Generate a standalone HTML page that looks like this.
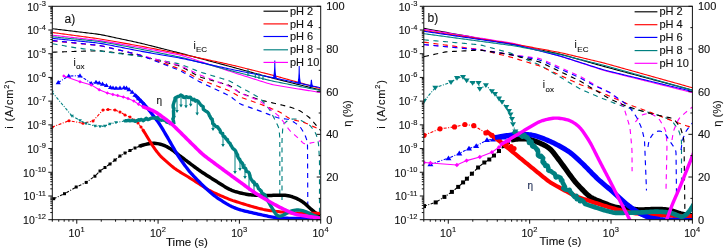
<!DOCTYPE html><html><head><meta charset="utf-8"><style>
html,body{margin:0;padding:0;background:#fff;}
svg{display:block;filter:blur(0.3px);}
</style></head><body><svg width="725" height="249" viewBox="0 0 725 249">
<style>text{stroke:#111;stroke-width:0.12px;}</style>
<rect width="725" height="249" fill="#fff"/>
<defs><clipPath id="ca"><rect x="52.3" y="6.3" width="268.4" height="213.4"/></clipPath><clipPath id="cb"><rect x="423.8" y="6.3" width="268.6" height="213.4"/></clipPath></defs>
<g clip-path="url(#ca)">
<path d="M52.5,52.2 L54.26,52.14 L55.56,52.09 L57.01,52.04 L58.5,51.99 L60,51.93 L61.5,51.88 L63,51.83 L64.5,51.77 L66,51.72 L67.5,51.67 L69,51.61 L70.5,51.56 L72,51.51 L73.5,51.46 L75,51.41 L76.5,51.37 L78,51.33 L79.5,51.29 L81,51.26 L82.5,51.22 L84,51.18 L85.5,51.15 L87,51.11 L88.5,51.08 L90,51.04 L91.5,51 L93,50.97 L94.5,50.93 L96,50.9 L97.5,50.87 L99,50.88 L100.49,50.94 L101.98,51.07 L103.48,51.23 L104.96,51.41 L106.45,51.59 L107.94,51.77 L109.43,51.96 L110.92,52.14 L112.41,52.32 L113.9,52.5 L115.39,52.69 L116.88,52.87 L118.37,53.05 L119.86,53.23 L121.35,53.42 L122.84,53.6 L124.33,53.78 L125.82,53.96 L127.31,54.15 L128.8,54.33 L130.29,54.51 L131.78,54.69 L133.27,54.88 L134.76,55.06 L136.24,55.24 L137.73,55.44 L139.21,55.66 L140.68,55.94 L142.15,56.27 L143.6,56.63 L145.06,57 L146.51,57.38 L147.96,57.75 L149.42,58.12 L150.87,58.5 L152.32,58.87 L153.78,59.25 L155.23,59.62 L156.68,60 L158.14,60.37 L159.59,60.74 L161.04,61.12 L162.5,61.49 L163.95,61.87 L165.4,62.24 L166.86,62.62 L168.31,62.99 L169.76,63.36 L171.22,63.74 L172.67,64.11 L174.12,64.49 L175.57,64.86 L177.02,65.25 L178.46,65.67 L179.86,66.16 L181.23,66.76 L182.56,67.43 L183.88,68.14 L185.2,68.86 L186.52,69.58 L187.83,70.31 L189.15,71.03 L190.46,71.75 L191.78,72.48 L193.09,73.2 L194.4,73.92 L195.72,74.64 L197.04,75.36 L198.37,76.05 L199.72,76.69 L201.11,77.23 L202.53,77.7 L203.96,78.12 L205.41,78.53 L206.85,78.94 L208.29,79.35 L209.74,79.76 L211.18,80.17 L212.63,80.58 L214.07,80.99 L215.51,81.4 L216.96,81.8 L218.4,82.21 L219.85,82.62 L221.29,83.03 L222.73,83.44 L224.18,83.85 L225.62,84.26 L227.06,84.69 L228.47,85.16 L229.83,85.74 L231.12,86.46 L232.35,87.29 L233.56,88.17 L234.76,89.07 L235.96,89.97 L237.17,90.86 L238.39,91.73 L239.64,92.52 L240.96,93.21 L242.33,93.78 L243.74,94.3 L245.15,94.8 L246.57,95.3 L247.98,95.79 L249.4,96.29 L250.82,96.79 L252.23,97.28 L253.65,97.78 L255.07,98.27 L256.48,98.77 L257.9,99.25 L259.33,99.71 L260.77,100.12 L262.22,100.5 L263.68,100.84 L265.14,101.18 L266.61,101.52 L268.07,101.86 L269.53,102.19 L270.99,102.53 L272.46,102.86 L273.92,103.2 L275.38,103.54 L276.84,103.87 L278.31,104.21 L279.77,104.55 L281.23,104.9 L282.69,105.25 L284.15,105.6 L285.61,105.95 L287.06,106.3 L288.52,106.68 L289.96,107.09 L291.38,107.54 L292.8,108.04 L294.21,108.56 L295.61,109.08 L297.02,109.61 L298.4,110.17 L299.75,110.81 L301.04,111.55 L302.29,112.37 L303.51,113.23 L304.73,114.11 L305.95,114.98 L307.16,115.87 L308.36,116.77 L309.5,117.72 L310.58,118.75 L311.59,119.85 L312.56,120.98 L313.53,122.13 L314.49,123.29 L315.45,124.44 L316.41,125.59 L317.38,126.74 L318.36,127.87 L319.33,128.99 L320.27,130.06 L321.08,130.96 L322,132" stroke="#000000" stroke-width="1.15" stroke-dasharray="5 4.5" fill="none"/>
<path d="M52.5,43.7 L54.23,44.01 L55.51,44.24 L56.94,44.49 L58.41,44.75 L59.89,45.01 L61.37,45.28 L62.85,45.54 L64.32,45.8 L65.8,46.06 L67.28,46.33 L68.76,46.59 L70.24,46.85 L71.72,47.11 L73.2,47.37 L74.68,47.61 L76.16,47.84 L77.65,48.05 L79.13,48.25 L80.62,48.44 L82.11,48.64 L83.6,48.84 L85.09,49.03 L86.58,49.23 L88.07,49.42 L89.55,49.62 L91.04,49.82 L92.53,50.01 L94.02,50.21 L95.51,50.41 L97,50.6 L98.48,50.8 L99.97,51 L101.46,51.19 L102.95,51.39 L104.44,51.59 L105.93,51.79 L107.41,51.98 L108.9,52.18 L110.39,52.38 L111.88,52.57 L113.37,52.77 L114.86,52.97 L116.34,53.17 L117.83,53.36 L119.32,53.56 L120.81,53.76 L122.3,53.95 L123.78,54.15 L125.27,54.35 L126.76,54.55 L128.25,54.74 L129.74,54.94 L131.23,55.14 L132.71,55.33 L134.2,55.53 L135.69,55.73 L137.18,55.93 L138.66,56.14 L140.15,56.37 L141.63,56.63 L143.1,56.9 L144.58,57.18 L146.05,57.46 L147.53,57.75 L149,58.03 L150.47,58.32 L151.95,58.6 L153.42,58.88 L154.9,59.17 L156.37,59.45 L157.85,59.74 L159.32,60.02 L160.79,60.3 L162.27,60.59 L163.74,60.87 L165.22,61.15 L166.69,61.44 L168.16,61.72 L169.64,62.01 L171.11,62.29 L172.59,62.57 L174.06,62.86 L175.54,63.14 L177.01,63.43 L178.47,63.75 L179.92,64.13 L181.34,64.59 L182.75,65.11 L184.14,65.66 L185.54,66.21 L186.93,66.77 L188.32,67.33 L189.72,67.89 L191.11,68.44 L192.51,69 L193.9,69.56 L195.29,70.12 L196.69,70.67 L198.09,71.22 L199.49,71.74 L200.91,72.23 L202.34,72.69 L203.77,73.13 L205.21,73.56 L206.65,73.99 L208.09,74.43 L209.53,74.86 L210.96,75.29 L212.4,75.72 L213.84,76.15 L215.28,76.58 L216.72,77.01 L218.15,77.45 L219.59,77.88 L221.03,78.31 L222.47,78.74 L223.91,79.17 L225.34,79.6 L226.78,80.04 L228.2,80.51 L229.59,81.04 L230.94,81.67 L232.26,82.38 L233.55,83.14 L234.84,83.91 L236.13,84.68 L237.42,85.45 L238.71,86.21 L240.01,86.97 L241.31,87.71 L242.62,88.44 L243.94,89.17 L245.25,89.89 L246.57,90.61 L247.88,91.34 L249.2,92.06 L250.52,92.78 L251.83,93.51 L253.15,94.23 L254.46,94.95 L255.78,95.68 L257.08,96.41 L258.36,97.18 L259.57,98.03 L260.68,99.01 L261.7,100.09 L262.68,101.22 L263.64,102.37 L264.6,103.52 L265.56,104.68 L266.53,105.83 L267.48,106.99 L268.43,108.15 L269.33,109.34 L270.15,110.59 L270.9,111.88 L271.6,113.21 L272.27,114.55 L272.94,115.89 L273.62,117.23 L274.29,118.57 L274.96,119.92 L275.63,121.26 L276.3,122.6 L276.97,123.95 L277.62,125.29 L278.22,126.66 L278.7,128.05 L279.02,129.49 L279.22,130.97 L279.35,132.46 L279.48,133.96 L279.59,135.45 L279.69,136.95 L279.75,138.45 L279.79,139.95 L279.8,141.45 L279.8,142.95 L279.8,144.45 L279.8,145.95 L279.8,147.46 L279.8,148.96 L279.8,150.46 L279.8,151.96 L279.8,153.46 L279.8,154.96 L279.8,156.46 L279.8,157.96 L279.8,159.47 L279.8,160.97 L279.8,162.47 L279.8,163.97 L279.8,165.47 L279.8,166.97 L279.8,168.47 L279.8,169.97 L279.8,171.48 L279.8,172.98 L279.8,174.48 L279.8,175.98 L279.8,177.48 L279.8,178.98 L279.8,180.48 L279.8,181.99 L279.8,183.49 L279.8,184.99 L279.8,186.49 L279.8,187.99 L279.8,189.49 L279.8,190.99 L279.8,192.49 L279.8,193.99 L279.8,195.47 L279.8,196.83 L279.8,197.93 L279.8,199" stroke="#008080" stroke-width="1.15" stroke-dasharray="5 4.5" fill="none"/>
<path d="M282,200 L282,198.24 L282,196.94 L282,195.48 L282,193.99 L282,192.49 L282,190.99 L282,189.48 L282,187.98 L282,186.48 L282,184.98 L282,183.47 L282,181.97 L282,180.47 L282,178.97 L282,177.47 L282,175.96 L282,174.46 L282,172.96 L282,171.46 L282,169.95 L282,168.45 L282,166.95 L282,165.45 L282,163.94 L282,162.44 L282,160.94 L282,159.44 L282,157.94 L282,156.43 L282,154.93 L282,153.43 L282,151.93 L282,150.42 L282,148.92 L282,147.42 L282,145.92 L282,144.41 L282,142.91 L282.02,141.41 L282.05,139.91 L282.11,138.41 L282.2,136.91 L282.29,135.41 L282.38,133.91 L282.47,132.41 L282.57,130.91 L282.66,129.41 L282.77,127.92 L282.93,126.46 L283.26,125.09 L283.88,123.88 L284.82,122.85 L285.94,121.93 L287.15,121.06 L288.4,120.26 L289.7,119.62 L291.07,119.23 L292.52,119.06 L294,119.02 L295.5,119.05 L296.97,119.18 L298.4,119.48 L299.78,119.97 L301.14,120.59 L302.49,121.25 L303.83,121.92 L305.17,122.59 L306.51,123.27 L307.83,123.97 L309.07,124.76 L310.19,125.7 L311.17,126.78 L312.08,127.97 L312.95,129.19 L313.81,130.41 L314.64,131.66 L315.4,132.94 L316.03,134.28 L316.52,135.68 L316.94,137.11 L317.33,138.56 L317.7,140.02 L318.05,141.47 L318.33,142.94 L318.53,144.43 L318.66,145.92 L318.76,147.42 L318.85,148.92 L318.94,150.42 L319.02,151.92 L319.11,153.41 L319.2,154.91 L319.29,156.41 L319.37,157.91 L319.43,159.41 L319.48,160.92 L319.49,162.42 L319.5,163.92 L319.5,165.42 L319.5,166.92 L319.5,168.43 L319.5,169.93 L319.5,171.43 L319.5,172.93 L319.5,174.44 L319.5,175.94 L319.5,177.44 L319.5,178.94 L319.5,180.45 L319.5,181.95 L319.5,183.45 L319.5,184.95 L319.5,186.45 L319.5,187.96 L319.5,189.46 L319.5,190.96 L319.5,192.46 L319.5,193.97 L319.5,195.47 L319.5,196.97 L319.5,198.47 L319.5,199.98 L319.5,201.48 L319.5,202.98 L319.5,204.48 L319.5,205.98 L319.5,207.49 L319.5,208.99 L319.5,210.49 L319.5,211.98 L319.5,213.4 L319.5,214.61 L319.5,216" stroke="#008080" stroke-width="1.15" stroke-dasharray="5 4.5" fill="none"/>
<path d="M52.5,41 L54.25,41.17 L55.55,41.29 L57,41.43 L58.48,41.57 L59.98,41.71 L61.48,41.85 L62.97,41.99 L64.47,42.13 L65.96,42.28 L67.46,42.42 L68.95,42.56 L70.45,42.7 L71.95,42.84 L73.44,42.98 L74.94,43.13 L76.43,43.27 L77.93,43.41 L79.43,43.55 L80.92,43.69 L82.42,43.83 L83.91,43.98 L85.41,44.12 L86.91,44.26 L88.4,44.4 L89.9,44.54 L91.39,44.68 L92.89,44.83 L94.38,44.97 L95.88,45.11 L97.37,45.26 L98.86,45.44 L100.35,45.67 L101.82,45.96 L103.28,46.29 L104.75,46.63 L106.21,46.97 L107.67,47.32 L109.13,47.67 L110.59,48.02 L112.06,48.36 L113.52,48.71 L114.98,49.06 L116.44,49.4 L117.9,49.75 L119.37,50.1 L120.83,50.45 L122.29,50.79 L123.75,51.14 L125.21,51.49 L126.67,51.84 L128.14,52.18 L129.6,52.53 L131.06,52.88 L132.52,53.22 L133.98,53.57 L135.45,53.92 L136.91,54.27 L138.36,54.64 L139.81,55.03 L141.25,55.47 L142.67,55.94 L144.09,56.43 L145.51,56.93 L146.93,57.42 L148.35,57.92 L149.76,58.42 L151.18,58.91 L152.6,59.41 L154.02,59.91 L155.44,60.4 L156.86,60.9 L158.27,61.4 L159.69,61.89 L161.11,62.39 L162.53,62.89 L163.95,63.38 L165.37,63.88 L166.78,64.37 L168.2,64.87 L169.62,65.37 L171.04,65.86 L172.46,66.36 L173.87,66.86 L175.29,67.35 L176.71,67.85 L178.12,68.37 L179.51,68.92 L180.88,69.53 L182.23,70.19 L183.57,70.87 L184.9,71.57 L186.23,72.27 L187.56,72.97 L188.89,73.67 L190.22,74.36 L191.55,75.06 L192.88,75.76 L194.21,76.46 L195.54,77.16 L196.87,77.85 L198.21,78.54 L199.56,79.19 L200.93,79.81 L202.32,80.38 L203.72,80.92 L205.12,81.46 L206.52,82 L207.92,82.54 L209.33,83.08 L210.73,83.61 L212.13,84.15 L213.54,84.69 L214.94,85.23 L216.34,85.76 L217.75,86.3 L219.15,86.84 L220.55,87.38 L221.95,87.92 L223.36,88.45 L224.76,88.99 L226.16,89.53 L227.56,90.08 L228.94,90.66 L230.3,91.3 L231.62,92.01 L232.92,92.76 L234.21,93.53 L235.5,94.3 L236.79,95.07 L238.08,95.82 L239.4,96.53 L240.76,97.16 L242.15,97.72 L243.55,98.24 L244.97,98.74 L246.39,99.24 L247.81,99.73 L249.23,100.23 L250.64,100.73 L252.06,101.22 L253.48,101.72 L254.9,102.21 L256.32,102.71 L257.73,103.21 L259.15,103.72 L260.55,104.25 L261.95,104.79 L263.35,105.34 L264.75,105.9 L266.14,106.46 L267.54,107.01 L268.93,107.57 L270.33,108.13 L271.72,108.69 L273.12,109.25 L274.51,109.81 L275.91,110.37 L277.3,110.93 L278.67,111.54 L280,112.21 L281.29,112.97 L282.54,113.79 L283.77,114.64 L285.01,115.5 L286.24,116.36 L287.48,117.21 L288.74,118.01 L290.04,118.7 L291.42,119.25 L292.84,119.68 L294.3,120.06 L295.75,120.42 L297.21,120.78 L298.67,121.14 L300.13,121.5 L301.59,121.86 L303.04,122.25 L304.47,122.68 L305.88,123.19 L307.26,123.76 L308.63,124.38 L309.99,125.01 L311.36,125.64 L312.72,126.26 L314.09,126.89 L315.46,127.52 L316.83,128.12 L318.2,128.68 L319.53,129.17 L320.68,129.56 L322,130" stroke="#ff0000" stroke-width="1.15" stroke-dasharray="5 4.5" fill="none"/>
<path d="M52.5,40.5 L54.25,40.68 L55.54,40.82 L56.99,40.97 L58.47,41.13 L59.96,41.29 L61.45,41.44 L62.95,41.6 L64.44,41.76 L65.93,41.91 L67.42,42.07 L68.92,42.23 L70.41,42.39 L71.9,42.54 L73.39,42.7 L74.89,42.86 L76.38,43.01 L77.87,43.17 L79.36,43.33 L80.86,43.48 L82.35,43.64 L83.84,43.8 L85.33,43.96 L86.83,44.11 L88.32,44.27 L89.81,44.43 L91.3,44.58 L92.8,44.74 L94.29,44.9 L95.78,45.06 L97.27,45.22 L98.76,45.41 L100.24,45.65 L101.71,45.93 L103.17,46.26 L104.63,46.6 L106.09,46.95 L107.55,47.29 L109.01,47.64 L110.47,47.99 L111.93,48.33 L113.39,48.68 L114.85,49.03 L116.31,49.37 L117.77,49.72 L119.23,50.07 L120.69,50.41 L122.15,50.76 L123.61,51.11 L125.07,51.46 L126.54,51.8 L128,52.15 L129.46,52.5 L130.92,52.84 L132.38,53.19 L133.84,53.54 L135.3,53.88 L136.76,54.23 L138.21,54.58 L139.67,54.94 L141.13,55.3 L142.58,55.68 L144.03,56.06 L145.48,56.44 L146.94,56.82 L148.39,57.2 L149.84,57.58 L151.29,57.96 L152.74,58.34 L154.19,58.73 L155.64,59.11 L157.1,59.49 L158.55,59.87 L160,60.25 L161.45,60.63 L162.9,61.01 L164.35,61.39 L165.81,61.77 L167.26,62.15 L168.71,62.54 L170.16,62.92 L171.61,63.3 L173.06,63.68 L174.51,64.06 L175.97,64.44 L177.41,64.84 L178.85,65.26 L180.26,65.76 L181.64,66.32 L183.01,66.94 L184.37,67.57 L185.72,68.22 L187.08,68.86 L188.43,69.51 L189.79,70.15 L191.14,70.79 L192.5,71.44 L193.86,72.08 L195.21,72.72 L196.57,73.37 L197.93,74 L199.29,74.62 L200.67,75.22 L202.06,75.78 L203.46,76.32 L204.86,76.86 L206.26,77.4 L207.66,77.94 L209.06,78.47 L210.46,79.01 L211.86,79.55 L213.27,80.09 L214.67,80.62 L216.07,81.16 L217.47,81.7 L218.87,82.23 L220.27,82.77 L221.67,83.31 L223.07,83.85 L224.48,84.38 L225.88,84.92 L227.27,85.47 L228.65,86.05 L230,86.69 L231.31,87.41 L232.58,88.19 L233.85,89 L235.11,89.82 L236.37,90.63 L237.63,91.44 L238.91,92.22 L240.22,92.94 L241.57,93.58 L242.95,94.17 L244.33,94.73 L245.73,95.29 L247.12,95.85 L248.51,96.41 L249.91,96.96 L251.3,97.52 L252.69,98.08 L254.09,98.64 L255.48,99.19 L256.87,99.76 L258.24,100.36 L259.57,101.02 L260.83,101.8 L262.05,102.67 L263.23,103.59 L264.4,104.52 L265.57,105.46 L266.75,106.4 L267.92,107.33 L269.09,108.27 L270.26,109.21 L271.43,110.15 L272.61,111.08 L273.78,112.02 L274.95,112.96 L276.12,113.9 L277.29,114.84 L278.43,115.8 L279.52,116.82 L280.53,117.91 L281.45,119.08 L282.34,120.29 L283.22,121.51 L284.09,122.73 L284.96,123.95 L285.84,125.17 L286.71,126.39 L287.58,127.61 L288.47,128.82 L289.39,130 L290.37,131.12 L291.43,132.17 L292.54,133.17 L293.67,134.16 L294.81,135.13 L295.95,136.11 L297.08,137.09 L298.21,138.08 L299.31,139.1 L300.36,140.16 L301.37,141.26 L302.37,142.32 L303.43,143.21 L304.61,143.73 L305.94,143.85 L307.36,143.69 L308.82,143.42 L310.28,143.12 L311.75,142.8 L313.22,142.48 L314.68,142.15 L316.14,141.82 L317.6,141.49 L319.02,141.17 L320.28,140.89 L322,140.5" stroke="#ff00ff" stroke-width="1.15" stroke-dasharray="5 4.5" fill="none"/>
<path d="M52.5,40.5 L54.25,40.68 L55.54,40.82 L56.99,40.97 L58.48,41.13 L59.97,41.29 L61.46,41.44 L62.96,41.6 L64.45,41.76 L65.94,41.91 L67.44,42.07 L68.93,42.23 L70.42,42.39 L71.92,42.54 L73.41,42.7 L74.9,42.86 L76.4,43.02 L77.89,43.17 L79.38,43.33 L80.88,43.49 L82.37,43.64 L83.87,43.8 L85.36,43.96 L86.85,44.12 L88.35,44.27 L89.84,44.43 L91.33,44.59 L92.83,44.74 L94.32,44.9 L95.81,45.06 L97.31,45.23 L98.79,45.42 L100.27,45.65 L101.75,45.94 L103.21,46.27 L104.67,46.61 L106.13,46.96 L107.59,47.3 L109.06,47.65 L110.52,48 L111.98,48.34 L113.44,48.69 L114.9,49.04 L116.36,49.39 L117.82,49.73 L119.28,50.08 L120.75,50.43 L122.21,50.77 L123.67,51.12 L125.13,51.47 L126.59,51.82 L128.05,52.16 L129.51,52.51 L130.97,52.86 L132.44,53.2 L133.9,53.55 L135.36,53.9 L136.82,54.25 L138.27,54.62 L139.71,55.03 L141.14,55.49 L142.55,56 L143.95,56.53 L145.35,57.07 L146.75,57.62 L148.15,58.16 L149.55,58.7 L150.95,59.25 L152.36,59.79 L153.76,60.33 L155.16,60.87 L156.56,61.42 L157.96,61.96 L159.36,62.5 L160.76,63.04 L162.16,63.59 L163.56,64.13 L164.96,64.67 L166.36,65.21 L167.76,65.76 L169.16,66.3 L170.56,66.84 L171.96,67.38 L173.36,67.93 L174.76,68.47 L176.16,69.01 L177.56,69.57 L178.94,70.15 L180.3,70.78 L181.63,71.47 L182.94,72.2 L184.24,72.94 L185.55,73.69 L186.85,74.44 L188.15,75.19 L189.45,75.93 L190.75,76.68 L192.06,77.43 L193.36,78.18 L194.66,78.93 L195.96,79.68 L197.26,80.42 L198.57,81.16 L199.9,81.87 L201.23,82.55 L202.59,83.2 L203.94,83.84 L205.3,84.48 L206.67,85.11 L208.03,85.75 L209.39,86.38 L210.75,87.02 L212.11,87.65 L213.47,88.29 L214.83,88.92 L216.19,89.56 L217.55,90.19 L218.91,90.83 L220.28,91.46 L221.64,92.1 L223,92.73 L224.36,93.37 L225.72,94 L227.07,94.65 L228.41,95.32 L229.71,96.05 L230.96,96.87 L232.17,97.75 L233.35,98.68 L234.52,99.62 L235.69,100.55 L236.87,101.49 L238.05,102.4 L239.27,103.25 L240.56,103.99 L241.91,104.61 L243.3,105.15 L244.72,105.65 L246.13,106.15 L247.55,106.64 L248.97,107.14 L250.39,107.64 L251.8,108.13 L253.22,108.63 L254.64,109.12 L256.06,109.62 L257.47,110.12 L258.89,110.62 L260.3,111.14 L261.7,111.67 L263.1,112.21 L264.5,112.75 L265.9,113.3 L267.3,113.84 L268.7,114.38 L270.1,114.93 L271.5,115.47 L272.9,116.02 L274.3,116.56 L275.71,117.08 L277.13,117.55 L278.57,117.93 L280.03,118.22 L281.52,118.43 L283.01,118.62 L284.5,118.81 L285.98,119.01 L287.46,119.23 L288.9,119.54 L290.28,120.02 L291.59,120.68 L292.86,121.46 L294.11,122.29 L295.35,123.14 L296.59,123.99 L297.8,124.85 L298.96,125.78 L299.99,126.82 L300.9,127.98 L301.7,129.23 L302.48,130.51 L303.23,131.81 L303.97,133.12 L304.66,134.44 L305.27,135.81 L305.81,137.2 L306.31,138.62 L306.77,140.04 L307.13,141.48 L307.37,142.94 L307.48,144.43 L307.51,145.93 L307.52,147.43 L307.53,148.93 L307.54,150.43 L307.55,151.93 L307.55,153.43 L307.56,154.94 L307.57,156.44 L307.57,157.94 L307.58,159.44 L307.59,160.94 L307.59,162.44 L307.6,163.95 L307.61,165.45 L307.61,166.95 L307.62,168.45 L307.63,169.95 L307.63,171.46 L307.64,172.96 L307.65,174.46 L307.65,175.96 L307.66,177.46 L307.67,178.96 L307.67,180.47 L307.68,181.97 L307.69,183.47 L307.7,184.97 L307.7,186.47 L307.71,187.98 L307.72,189.48 L307.72,190.98 L307.73,192.48 L307.74,193.98 L307.74,195.48 L307.75,196.99 L307.76,198.49 L307.76,199.99 L307.77,201.49 L307.78,202.99 L307.78,204.46 L307.79,205.83 L307.8,206.93 L307.8,208" stroke="#0000ff" stroke-width="1.15" stroke-dasharray="5 4.5" fill="none"/>
<path d="M52.5,28.75 L54.94,29.04 L56,29.17 L57.23,29.31 L58.58,29.47 L60,29.64 L61.46,29.82 L62.94,29.99 L64.43,30.17 L65.92,30.35 L67.41,30.52 L68.9,30.7 L70.39,30.88 L71.88,31.06 L73.37,31.23 L74.87,31.41 L76.36,31.59 L77.85,31.76 L79.34,31.94 L80.83,32.12 L82.32,32.3 L83.81,32.47 L85.3,32.65 L86.79,32.83 L88.28,33.01 L89.78,33.18 L91.27,33.36 L92.76,33.54 L94.25,33.73 L95.73,33.92 L97.22,34.12 L98.71,34.34 L100.19,34.58 L101.66,34.84 L103.14,35.12 L104.61,35.41 L106.08,35.72 L107.55,36.03 L109.02,36.34 L110.48,36.65 L111.95,36.97 L113.42,37.29 L114.89,37.6 L116.36,37.92 L117.82,38.23 L119.29,38.55 L120.76,38.86 L122.23,39.18 L123.7,39.49 L125.16,39.81 L126.63,40.13 L128.1,40.44 L129.57,40.76 L131.04,41.07 L132.5,41.39 L133.97,41.71 L135.44,42.03 L136.9,42.35 L138.37,42.68 L139.83,43.02 L141.29,43.36 L142.75,43.72 L144.21,44.07 L145.67,44.44 L147.12,44.8 L148.58,45.17 L150.04,45.53 L151.49,45.9 L152.95,46.27 L154.4,46.64 L155.86,47 L157.32,47.37 L158.77,47.74 L160.23,48.11 L161.68,48.47 L163.14,48.84 L164.6,49.21 L166.05,49.57 L167.51,49.94 L168.96,50.31 L170.42,50.68 L171.87,51.04 L173.33,51.41 L174.79,51.78 L176.24,52.15 L177.7,52.52 L179.15,52.89 L180.61,53.26 L182.06,53.64 L183.51,54.02 L184.96,54.4 L186.42,54.79 L187.87,55.17 L189.32,55.56 L190.77,55.95 L192.22,56.34 L193.67,56.73 L195.12,57.12 L196.57,57.5 L198.02,57.89 L199.47,58.28 L200.92,58.67 L202.37,59.06 L203.82,59.45 L205.27,59.84 L206.72,60.23 L208.17,60.61 L209.62,61 L211.07,61.39 L212.52,61.78 L213.97,62.17 L215.42,62.56 L216.87,62.95 L218.32,63.33 L219.77,63.72 L221.22,64.11 L222.67,64.5 L224.12,64.89 L225.58,65.28 L227.03,65.67 L228.48,66.06 L229.92,66.45 L231.37,66.84 L232.82,67.23 L234.27,67.63 L235.72,68.03 L237.17,68.42 L238.62,68.82 L240.06,69.22 L241.51,69.62 L242.96,70.01 L244.41,70.41 L245.86,70.81 L247.3,71.21 L248.75,71.61 L250.2,72 L251.65,72.4 L253.09,72.8 L254.54,73.2 L255.99,73.6 L257.44,74 L258.89,74.39 L260.33,74.79 L261.78,75.19 L263.23,75.59 L264.68,75.98 L266.12,76.38 L267.57,76.78 L269.02,77.17 L270.47,77.56 L271.93,77.94 L273.38,78.31 L274.83,78.69 L276.29,79.05 L277.75,79.42 L279.2,79.78 L280.66,80.14 L282.12,80.5 L283.58,80.86 L285.03,81.22 L286.49,81.59 L287.95,81.95 L289.41,82.31 L290.86,82.67 L292.32,83.03 L293.78,83.39 L295.24,83.75 L296.69,84.11 L298.15,84.47 L299.61,84.83 L301.07,85.19 L302.52,85.55 L303.98,85.91 L305.44,86.27 L306.9,86.63 L308.35,86.99 L309.81,87.35 L311.26,87.71 L312.69,88.07 L314.1,88.42 L315.45,88.75 L316.69,89.06 L317.79,89.33 L318.7,89.55 L320.5,90" stroke="#000000" stroke-width="1.1" fill="none"/>
<path d="M52.5,32.5 L54.93,32.83 L55.99,32.97 L57.22,33.14 L58.56,33.32 L59.98,33.51 L61.44,33.7 L62.91,33.9 L64.4,34.1 L65.88,34.3 L67.37,34.5 L68.86,34.7 L70.34,34.9 L71.83,35.1 L73.32,35.3 L74.8,35.51 L76.29,35.71 L77.78,35.91 L79.27,36.11 L80.75,36.31 L82.24,36.51 L83.73,36.71 L85.21,36.91 L86.7,37.11 L88.19,37.31 L89.67,37.51 L91.16,37.71 L92.65,37.91 L94.13,38.11 L95.62,38.32 L97.11,38.53 L98.59,38.75 L100.07,38.98 L101.55,39.22 L103.03,39.46 L104.51,39.71 L105.99,39.97 L107.47,40.23 L108.95,40.49 L110.42,40.75 L111.9,41.01 L113.38,41.27 L114.86,41.54 L116.33,41.8 L117.81,42.06 L119.29,42.32 L120.77,42.59 L122.24,42.85 L123.72,43.11 L125.2,43.37 L126.67,43.63 L128.15,43.9 L129.63,44.16 L131.11,44.42 L132.58,44.68 L134.06,44.95 L135.54,45.21 L137.01,45.48 L138.49,45.75 L139.97,46.02 L141.44,46.3 L142.91,46.58 L144.39,46.86 L145.86,47.15 L147.33,47.43 L148.81,47.72 L150.28,48.01 L151.75,48.29 L153.22,48.58 L154.7,48.87 L156.17,49.16 L157.64,49.44 L159.11,49.73 L160.59,50.02 L162.06,50.31 L163.53,50.59 L165,50.88 L166.48,51.17 L167.95,51.46 L169.42,51.74 L170.9,52.03 L172.37,52.32 L173.84,52.61 L175.31,52.9 L176.78,53.19 L178.26,53.48 L179.73,53.77 L181.2,54.07 L182.67,54.37 L184.14,54.68 L185.6,54.99 L187.07,55.3 L188.54,55.61 L190.01,55.93 L191.47,56.25 L192.94,56.56 L194.41,56.88 L195.87,57.2 L197.34,57.51 L198.81,57.83 L200.27,58.15 L201.74,58.46 L203.21,58.78 L204.67,59.1 L206.14,59.41 L207.61,59.73 L209.07,60.05 L210.54,60.36 L212.01,60.68 L213.47,61 L214.94,61.31 L216.4,61.63 L217.87,61.95 L219.34,62.27 L220.8,62.58 L222.27,62.9 L223.74,63.22 L225.2,63.53 L226.67,63.85 L228.14,64.18 L229.6,64.5 L231.06,64.84 L232.52,65.18 L233.98,65.52 L235.44,65.87 L236.9,66.23 L238.36,66.59 L239.81,66.95 L241.27,67.32 L242.72,67.68 L244.18,68.04 L245.63,68.41 L247.09,68.77 L248.55,69.14 L250,69.5 L251.46,69.86 L252.91,70.23 L254.37,70.59 L255.82,70.96 L257.28,71.32 L258.73,71.68 L260.19,72.05 L261.65,72.41 L263.1,72.78 L264.56,73.14 L266.01,73.51 L267.47,73.87 L268.92,74.24 L270.37,74.62 L271.82,75 L273.27,75.38 L274.72,75.77 L276.17,76.17 L277.62,76.57 L279.06,76.97 L280.51,77.37 L281.95,77.77 L283.4,78.17 L284.85,78.58 L286.29,78.98 L287.74,79.38 L289.18,79.78 L290.63,80.18 L292.07,80.59 L293.52,80.99 L294.96,81.39 L296.41,81.79 L297.85,82.2 L299.3,82.6 L300.75,83 L302.19,83.4 L303.64,83.81 L305.08,84.21 L306.53,84.61 L307.97,85.01 L309.42,85.41 L310.86,85.82 L312.29,86.21 L313.69,86.61 L315.05,86.98 L316.33,87.34 L317.47,87.66 L318.43,87.93 L320.5,88.5" stroke="#ff0000" stroke-width="1.1" fill="none"/>
<path d="M52.5,35.2 L54.94,35.47 L56.01,35.59 L57.24,35.73 L58.59,35.88 L60.01,36.04 L61.47,36.2 L62.96,36.37 L64.45,36.53 L65.94,36.7 L67.43,36.87 L68.92,37.03 L70.42,37.2 L71.91,37.37 L73.4,37.53 L74.89,37.7 L76.39,37.87 L77.88,38.03 L79.37,38.2 L80.87,38.37 L82.36,38.53 L83.85,38.7 L85.35,38.86 L86.84,39.03 L88.33,39.2 L89.82,39.37 L91.32,39.53 L92.81,39.7 L94.3,39.87 L95.79,40.05 L97.28,40.23 L98.77,40.43 L100.26,40.64 L101.75,40.86 L103.23,41.09 L104.71,41.34 L106.19,41.59 L107.67,41.85 L109.15,42.1 L110.63,42.36 L112.11,42.62 L113.59,42.88 L115.07,43.14 L116.55,43.4 L118.03,43.66 L119.51,43.91 L120.99,44.17 L122.47,44.43 L123.95,44.69 L125.43,44.95 L126.91,45.21 L128.39,45.47 L129.87,45.73 L131.35,45.99 L132.83,46.25 L134.31,46.51 L135.79,46.77 L137.27,47.03 L138.75,47.29 L140.22,47.56 L141.7,47.83 L143.18,48.1 L144.66,48.38 L146.13,48.65 L147.61,48.93 L149.08,49.21 L150.56,49.49 L152.04,49.76 L153.51,50.04 L154.99,50.32 L156.47,50.6 L157.94,50.88 L159.42,51.15 L160.9,51.43 L162.37,51.71 L163.85,51.99 L165.33,52.26 L166.8,52.54 L168.28,52.82 L169.75,53.1 L171.23,53.37 L172.71,53.65 L174.18,53.93 L175.66,54.22 L177.13,54.51 L178.6,54.82 L180.06,55.15 L181.52,55.5 L182.97,55.88 L184.41,56.29 L185.85,56.72 L187.28,57.17 L188.71,57.64 L190.13,58.1 L191.56,58.57 L192.99,59.05 L194.41,59.52 L195.84,59.99 L197.26,60.47 L198.69,60.94 L200.11,61.41 L201.54,61.89 L202.97,62.36 L204.39,62.83 L205.82,63.31 L207.24,63.78 L208.67,64.25 L210.09,64.73 L211.52,65.2 L212.95,65.67 L214.37,66.15 L215.8,66.62 L217.22,67.09 L218.65,67.57 L220.07,68.04 L221.5,68.51 L222.93,68.99 L224.35,69.46 L225.78,69.93 L227.2,70.41 L228.63,70.88 L230.06,71.34 L231.49,71.81 L232.92,72.27 L234.35,72.74 L235.78,73.19 L237.21,73.65 L238.64,74.11 L240.07,74.56 L241.5,75.02 L242.93,75.47 L244.37,75.93 L245.8,76.38 L247.23,76.84 L248.66,77.29 L250.09,77.74 L251.52,78.2 L252.96,78.65 L254.39,79.11 L255.82,79.56 L257.25,80.02 L258.68,80.47 L260.12,80.93 L261.55,81.38 L262.98,81.83 L264.41,82.29 L265.85,82.73 L267.28,83.17 L268.72,83.59 L270.17,83.99 L271.62,84.36 L273.08,84.7 L274.54,85.01 L276.02,85.3 L277.49,85.56 L278.97,85.81 L280.45,86.06 L281.94,86.3 L283.42,86.54 L284.9,86.78 L286.39,87.01 L287.87,87.25 L289.35,87.49 L290.84,87.73 L292.32,87.97 L293.8,88.21 L295.29,88.44 L296.77,88.68 L298.25,88.92 L299.74,89.16 L301.22,89.4 L302.7,89.64 L304.18,89.88 L305.67,90.11 L307.15,90.35 L308.63,90.59 L310.11,90.83 L311.58,91.07 L313.04,91.3 L314.45,91.53 L315.79,91.74 L317.02,91.94 L318.07,92.11 L320.5,92.5" stroke="#ff00ff" stroke-width="1.1" fill="none"/>
<path d="M52.5,36.8 L54.94,37.04 L56.01,37.15 L57.24,37.27 L58.59,37.4 L60.02,37.54 L61.48,37.69 L62.96,37.84 L64.45,37.98 L65.95,38.13 L67.44,38.28 L68.93,38.43 L70.43,38.57 L71.92,38.72 L73.42,38.87 L74.91,39.02 L76.4,39.17 L77.9,39.31 L79.39,39.46 L80.88,39.61 L82.38,39.76 L83.87,39.9 L85.37,40.05 L86.86,40.2 L88.35,40.35 L89.85,40.5 L91.34,40.65 L92.84,40.8 L94.33,40.95 L95.82,41.11 L97.31,41.29 L98.8,41.47 L100.28,41.68 L101.77,41.91 L103.25,42.15 L104.73,42.41 L106.2,42.67 L107.68,42.94 L109.15,43.22 L110.63,43.49 L112.11,43.77 L113.58,44.05 L115.06,44.32 L116.53,44.6 L118.01,44.88 L119.48,45.15 L120.96,45.43 L122.43,45.71 L123.91,45.98 L125.39,46.26 L126.86,46.54 L128.34,46.81 L129.81,47.09 L131.29,47.37 L132.76,47.64 L134.24,47.92 L135.71,48.2 L137.19,48.48 L138.66,48.76 L140.14,49.05 L141.61,49.34 L143.08,49.63 L144.55,49.93 L146.03,50.22 L147.5,50.52 L148.97,50.82 L150.44,51.11 L151.91,51.41 L153.38,51.71 L154.85,52.01 L156.33,52.3 L157.8,52.6 L159.27,52.9 L160.74,53.2 L162.21,53.5 L163.68,53.79 L165.15,54.09 L166.63,54.39 L168.1,54.69 L169.57,54.98 L171.04,55.28 L172.51,55.58 L173.98,55.88 L175.45,56.18 L176.92,56.48 L178.39,56.8 L179.86,57.11 L181.32,57.45 L182.78,57.79 L184.24,58.15 L185.69,58.52 L187.14,58.9 L188.6,59.29 L190.05,59.67 L191.49,60.06 L192.94,60.46 L194.39,60.85 L195.84,61.24 L197.29,61.63 L198.74,62.02 L200.19,62.41 L201.64,62.8 L203.09,63.19 L204.54,63.59 L205.99,63.98 L207.44,64.37 L208.89,64.76 L210.34,65.15 L211.79,65.54 L213.23,65.93 L214.68,66.32 L216.13,66.72 L217.58,67.11 L219.03,67.5 L220.48,67.89 L221.93,68.28 L223.38,68.67 L224.83,69.06 L226.28,69.45 L227.73,69.84 L229.18,70.23 L230.63,70.61 L232.08,70.99 L233.54,71.37 L234.99,71.74 L236.45,72.11 L237.9,72.47 L239.36,72.84 L240.81,73.2 L242.27,73.57 L243.73,73.93 L245.18,74.3 L246.64,74.66 L248.1,75.02 L249.55,75.39 L251.01,75.75 L252.47,76.12 L253.92,76.48 L255.38,76.84 L256.84,77.21 L258.29,77.57 L259.75,77.94 L261.2,78.3 L262.66,78.66 L264.12,79.03 L265.57,79.39 L267.03,79.75 L268.49,80.1 L269.95,80.45 L271.41,80.78 L272.88,81.11 L274.35,81.42 L275.82,81.73 L277.29,82.03 L278.76,82.32 L280.23,82.61 L281.71,82.9 L283.18,83.19 L284.65,83.48 L286.12,83.77 L287.6,84.06 L289.07,84.34 L290.54,84.63 L292.02,84.92 L293.49,85.21 L294.96,85.5 L296.44,85.79 L297.91,86.08 L299.38,86.36 L300.86,86.65 L302.33,86.94 L303.8,87.23 L305.28,87.52 L306.75,87.81 L308.22,88.1 L309.69,88.38 L311.16,88.67 L312.61,88.95 L314.03,89.23 L315.39,89.5 L316.65,89.75 L317.76,89.96 L318.68,90.14 L320.5,90.5" stroke="#008080" stroke-width="1.1" fill="none"/>
<path d="M52.5,38.4 L54.94,38.65 L56.01,38.75 L57.24,38.88 L58.59,39.02 L60.01,39.16 L61.48,39.31 L62.96,39.46 L64.45,39.61 L65.94,39.76 L67.44,39.91 L68.93,40.06 L70.42,40.21 L71.92,40.36 L73.41,40.51 L74.9,40.66 L76.4,40.81 L77.89,40.97 L79.38,41.12 L80.88,41.27 L82.37,41.42 L83.87,41.57 L85.36,41.72 L86.85,41.87 L88.35,42.02 L89.84,42.17 L91.33,42.33 L92.83,42.48 L94.32,42.64 L95.81,42.81 L97.3,42.98 L98.79,43.18 L100.27,43.39 L101.75,43.63 L103.23,43.88 L104.71,44.15 L106.18,44.43 L107.65,44.72 L109.13,45 L110.6,45.29 L112.07,45.58 L113.54,45.88 L115.02,46.17 L116.49,46.46 L117.96,46.75 L119.44,47.04 L120.91,47.33 L122.38,47.62 L123.85,47.91 L125.33,48.2 L126.8,48.49 L128.27,48.78 L129.74,49.07 L131.22,49.37 L132.69,49.66 L134.16,49.94 L135.64,50.23 L137.11,50.52 L138.59,50.8 L140.06,51.07 L141.54,51.35 L143.01,51.61 L144.49,51.87 L145.97,52.14 L147.45,52.39 L148.93,52.65 L150.41,52.91 L151.89,53.17 L153.37,53.42 L154.84,53.68 L156.32,53.94 L157.8,54.19 L159.28,54.45 L160.76,54.71 L162.24,54.97 L163.72,55.22 L165.2,55.48 L166.68,55.74 L168.16,55.99 L169.63,56.25 L171.11,56.51 L172.59,56.77 L174.07,57.02 L175.55,57.28 L177.03,57.55 L178.5,57.81 L179.98,58.09 L181.45,58.37 L182.93,58.66 L184.4,58.96 L185.86,59.27 L187.33,59.59 L188.8,59.91 L190.26,60.24 L191.73,60.56 L193.2,60.89 L194.66,61.21 L196.13,61.54 L197.59,61.86 L199.06,62.19 L200.52,62.51 L201.99,62.84 L203.45,63.16 L204.92,63.49 L206.38,63.81 L207.85,64.14 L209.32,64.46 L210.78,64.79 L212.25,65.11 L213.71,65.44 L215.18,65.77 L216.64,66.09 L218.11,66.42 L219.57,66.74 L221.04,67.07 L222.51,67.39 L223.97,67.72 L225.44,68.04 L226.9,68.36 L228.37,68.69 L229.84,69 L231.3,69.32 L232.77,69.63 L234.24,69.93 L235.71,70.23 L237.18,70.53 L238.66,70.83 L240.13,71.12 L241.6,71.42 L243.07,71.71 L244.54,72.01 L246.02,72.3 L247.49,72.6 L248.96,72.89 L250.43,73.19 L251.9,73.48 L253.38,73.78 L254.85,74.07 L256.32,74.36 L257.79,74.66 L259.26,74.95 L260.74,75.25 L262.21,75.54 L263.68,75.84 L265.15,76.13 L266.62,76.43 L268.1,76.72 L269.57,77.02 L271.04,77.32 L272.51,77.62 L273.98,77.92 L275.45,78.23 L276.92,78.54 L278.39,78.84 L279.86,79.15 L281.33,79.46 L282.79,79.77 L284.26,80.08 L285.73,80.39 L287.2,80.7 L288.67,81.01 L290.14,81.31 L291.61,81.62 L293.08,81.93 L294.55,82.24 L296.02,82.55 L297.48,82.86 L298.95,83.17 L300.42,83.48 L301.89,83.79 L303.36,84.1 L304.83,84.4 L306.3,84.71 L307.77,85.02 L309.24,85.33 L310.7,85.64 L312.15,85.94 L313.58,86.25 L314.96,86.54 L316.26,86.81 L317.42,87.05 L318.4,87.26 L320.5,87.7" stroke="#0000ff" stroke-width="1.1" fill="none"/>
<path d="M248,69 V76" stroke="#008080" stroke-width="1.2"/>
<path d="M255.3,73 V78" stroke="#008080" stroke-width="1.2"/>
<path d="M259,73.5 V79" stroke="#008080" stroke-width="1.2"/>
<path d="M263,75 V80" stroke="#008080" stroke-width="1.2"/>
<path d="M272.8,78 Q274.2,75 274.3,60.4 L275.3,60.4 Q275.4,75 276.8,78Z" fill="#0000ff"/>
<path d="M297.2,83.7 Q298.6,80.7 298.7,66 L299.7,66 Q299.8,80.7 301.2,83.7Z" fill="#0000ff"/>
<path d="M309.4,86.9 Q310.8,83.9 310.9,79.7 L311.9,79.7 Q312,83.9 313.4,86.9Z" fill="#0000ff"/>
<path d="M53.7,198.7 L64.5,193.7 L76.2,187 L86.2,182.4 L94.9,176.2 L100,171 L105,167.5 L110,164 L115,160 L120,156 L125,153 L130,150.5 L135,148 L140,146" stroke="#000000" stroke-width="1.1" stroke-dasharray="3 1.5 1 1.5" fill="none"/>
<rect x="52.2" y="197.2" width="3" height="3" fill="#000000"/>
<rect x="63" y="192.2" width="3" height="3" fill="#000000"/>
<rect x="74.7" y="185.5" width="3" height="3" fill="#000000"/>
<rect x="84.7" y="180.9" width="3" height="3" fill="#000000"/>
<rect x="93.4" y="174.7" width="3" height="3" fill="#000000"/>
<rect x="98.5" y="169.5" width="3" height="3" fill="#000000"/>
<rect x="103.5" y="166" width="3" height="3" fill="#000000"/>
<rect x="108.5" y="162.5" width="3" height="3" fill="#000000"/>
<rect x="113.5" y="158.5" width="3" height="3" fill="#000000"/>
<rect x="118.5" y="154.5" width="3" height="3" fill="#000000"/>
<rect x="123.5" y="151.5" width="3" height="3" fill="#000000"/>
<rect x="128.5" y="149" width="3" height="3" fill="#000000"/>
<rect x="133.5" y="146.5" width="3" height="3" fill="#000000"/>
<rect x="138.5" y="144.5" width="3" height="3" fill="#000000"/>
<path d="M52,127.2 L69,120.7 L83,123.2 L93,121 L103,110 L108,109.5 L115,110 L120,112 L125,115 L130,117 L134,120 L138,123 L141,127 L143,130" stroke="#ff0000" stroke-width="1.1" stroke-dasharray="3 1.5 1 1.5" fill="none"/>
<circle cx="52" cy="127.2" r="1.56" fill="#ff0000"/>
<circle cx="69" cy="120.7" r="1.56" fill="#ff0000"/>
<circle cx="83" cy="123.2" r="1.56" fill="#ff0000"/>
<circle cx="93" cy="121" r="1.56" fill="#ff0000"/>
<circle cx="103" cy="110" r="1.56" fill="#ff0000"/>
<circle cx="108" cy="109.5" r="1.56" fill="#ff0000"/>
<circle cx="115" cy="110" r="1.56" fill="#ff0000"/>
<circle cx="120" cy="112" r="1.56" fill="#ff0000"/>
<circle cx="125" cy="115" r="1.56" fill="#ff0000"/>
<circle cx="130" cy="117" r="1.56" fill="#ff0000"/>
<circle cx="134" cy="120" r="1.56" fill="#ff0000"/>
<circle cx="138" cy="123" r="1.56" fill="#ff0000"/>
<circle cx="141" cy="127" r="1.56" fill="#ff0000"/>
<circle cx="143" cy="130" r="1.56" fill="#ff0000"/>
<path d="M58.2,82.5 L68.7,76 L80,75.7 L91.2,83.3 L96,82.1 L99.2,82.8 L102.5,84 L106.4,85.4 L110.5,87.3 L113,87.8 L116,88.1 L120,88 L124,87.6 L126.5,88 L129,89.5 L132.2,92.1 L135,95 L138.6,98.5 L141,101 L144.2,104.2" stroke="#0000ff" stroke-width="1.1" stroke-dasharray="3 1.5 1 1.5" fill="none"/>
<path d="M58.2,80.12 L60.75,84.2 L55.65,84.2Z" fill="#0000ff"/>
<path d="M68.7,73.62 L71.25,77.7 L66.15,77.7Z" fill="#0000ff"/>
<path d="M80,73.32 L82.55,77.4 L77.45,77.4Z" fill="#0000ff"/>
<path d="M91.2,80.92 L93.75,85 L88.65,85Z" fill="#0000ff"/>
<path d="M96,79.72 L98.55,83.8 L93.45,83.8Z" fill="#0000ff"/>
<path d="M99.2,80.42 L101.75,84.5 L96.65,84.5Z" fill="#0000ff"/>
<path d="M102.5,81.62 L105.05,85.7 L99.95,85.7Z" fill="#0000ff"/>
<path d="M106.4,83.02 L108.95,87.1 L103.85,87.1Z" fill="#0000ff"/>
<path d="M110.5,84.92 L113.05,89 L107.95,89Z" fill="#0000ff"/>
<path d="M113,85.42 L115.55,89.5 L110.45,89.5Z" fill="#0000ff"/>
<path d="M116,85.72 L118.55,89.8 L113.45,89.8Z" fill="#0000ff"/>
<path d="M120,85.62 L122.55,89.7 L117.45,89.7Z" fill="#0000ff"/>
<path d="M124,85.22 L126.55,89.3 L121.45,89.3Z" fill="#0000ff"/>
<path d="M126.5,85.62 L129.05,89.7 L123.95,89.7Z" fill="#0000ff"/>
<path d="M129,87.12 L131.55,91.2 L126.45,91.2Z" fill="#0000ff"/>
<path d="M132.2,89.72 L134.75,93.8 L129.65,93.8Z" fill="#0000ff"/>
<path d="M135,92.62 L137.55,96.7 L132.45,96.7Z" fill="#0000ff"/>
<path d="M138.6,96.12 L141.15,100.2 L136.05,100.2Z" fill="#0000ff"/>
<path d="M141,98.62 L143.55,102.7 L138.45,102.7Z" fill="#0000ff"/>
<path d="M144.2,101.82 L146.75,105.9 L141.65,105.9Z" fill="#0000ff"/>
<path d="M63.8,76 L80,81.7 L91.2,84.9 L99.2,89.7 L107.3,93 L112.9,94.5 L117.7,95.6 L123.3,97 L128,98.5 L133.8,101 L138.6,104.2 L142.6,106.6" stroke="#ff00ff" stroke-width="1.1" fill="none"/>
<path d="M63.8,74.24 L65.56,76 L63.8,77.76 L62.04,76Z" fill="#ff00ff"/>
<path d="M80,79.94 L81.76,81.7 L80,83.46 L78.24,81.7Z" fill="#ff00ff"/>
<path d="M91.2,83.14 L92.96,84.9 L91.2,86.66 L89.44,84.9Z" fill="#ff00ff"/>
<path d="M99.2,87.94 L100.96,89.7 L99.2,91.46 L97.44,89.7Z" fill="#ff00ff"/>
<path d="M107.3,91.24 L109.06,93 L107.3,94.76 L105.54,93Z" fill="#ff00ff"/>
<path d="M112.9,92.74 L114.66,94.5 L112.9,96.26 L111.14,94.5Z" fill="#ff00ff"/>
<path d="M117.7,93.84 L119.46,95.6 L117.7,97.36 L115.94,95.6Z" fill="#ff00ff"/>
<path d="M123.3,95.24 L125.06,97 L123.3,98.76 L121.54,97Z" fill="#ff00ff"/>
<path d="M128,96.74 L129.76,98.5 L128,100.26 L126.24,98.5Z" fill="#ff00ff"/>
<path d="M133.8,99.24 L135.56,101 L133.8,102.76 L132.04,101Z" fill="#ff00ff"/>
<path d="M138.6,102.44 L140.36,104.2 L138.6,105.96 L136.84,104.2Z" fill="#ff00ff"/>
<path d="M142.6,104.84 L144.36,106.6 L142.6,108.36 L140.84,106.6Z" fill="#ff00ff"/>
<path d="M52,92 L72,116 L80,120.5 L86,123.5 L95,126 L100,126.5 L105,126 L110,124 L116,122.5 L124.7,121" stroke="#008080" stroke-width="1.1" stroke-dasharray="3 1.5 1 1.5" fill="none"/>
<path d="M52,93.82 L53.95,90.7 L50.05,90.7Z" fill="#008080"/>
<path d="M72,117.82 L73.95,114.7 L70.05,114.7Z" fill="#008080"/>
<path d="M80,122.32 L81.95,119.2 L78.05,119.2Z" fill="#008080"/>
<path d="M86,125.32 L87.95,122.2 L84.05,122.2Z" fill="#008080"/>
<path d="M95,127.82 L96.95,124.7 L93.05,124.7Z" fill="#008080"/>
<path d="M100,128.32 L101.95,125.2 L98.05,125.2Z" fill="#008080"/>
<path d="M105,127.82 L106.95,124.7 L103.05,124.7Z" fill="#008080"/>
<path d="M110,125.82 L111.95,122.7 L108.05,122.7Z" fill="#008080"/>
<path d="M116,124.32 L117.95,121.2 L114.05,121.2Z" fill="#008080"/>
<path d="M124.7,122.82 L126.65,119.7 L122.75,119.7Z" fill="#008080"/>
<path d="M174,97 V118" stroke="#008080" stroke-width="1"/><path d="M172.2,116 L175.8,116 L174,119Z" fill="#008080"/>
<path d="M177,97 V112" stroke="#008080" stroke-width="1"/><path d="M175.2,110 L178.8,110 L177,113Z" fill="#008080"/>
<path d="M181,96 V106.5" stroke="#008080" stroke-width="1"/><path d="M179.2,104.5 L182.8,104.5 L181,107.5Z" fill="#008080"/>
<path d="M186,96 V107.3" stroke="#008080" stroke-width="1"/><path d="M184.2,105.3 L187.8,105.3 L186,108.3Z" fill="#008080"/>
<path d="M190.7,96 V105.7" stroke="#008080" stroke-width="1"/><path d="M188.9,103.7 L192.5,103.7 L190.7,106.7Z" fill="#008080"/>
<path d="M197.2,99 V114.5" stroke="#008080" stroke-width="1"/><path d="M195.4,112.5 L199,112.5 L197.2,115.5Z" fill="#008080"/>
<path d="M213,118 V130" stroke="#008080" stroke-width="1"/><path d="M211.2,128 L214.8,128 L213,131Z" fill="#008080"/>
<path d="M223,132 V146" stroke="#008080" stroke-width="1"/><path d="M221.2,144 L224.8,144 L223,147Z" fill="#008080"/>
<path d="M235,152 V173" stroke="#008080" stroke-width="1"/><path d="M233.2,171 L236.8,171 L235,174Z" fill="#008080"/>
<path d="M240,159 V170" stroke="#008080" stroke-width="1"/><path d="M238.2,168 L241.8,168 L240,171Z" fill="#008080"/>
<path d="M245,164 V178" stroke="#008080" stroke-width="1"/><path d="M243.2,176 L246.8,176 L245,179Z" fill="#008080"/>
<path d="M249,172 V190" stroke="#008080" stroke-width="1"/><path d="M247.2,188 L250.8,188 L249,191Z" fill="#008080"/>
<path d="M254,180 V194" stroke="#008080" stroke-width="1"/><path d="M252.2,192 L255.8,192 L254,195Z" fill="#008080"/>
<path d="M140,146 L142.35,145.3 L143.38,145 L144.57,144.67 L145.87,144.33 L147.25,144.01 L148.68,143.74 L150.13,143.53 L151.6,143.4 L153.07,143.35 L154.55,143.37 L156.03,143.46 L157.5,143.63 L158.95,143.88 L160.39,144.21 L161.8,144.63 L163.2,145.12 L164.58,145.67 L165.93,146.28 L167.27,146.93 L168.58,147.64 L169.87,148.39 L171.12,149.19 L172.35,150.04 L173.55,150.92 L174.74,151.83 L175.93,152.75 L177.1,153.67 L178.28,154.6 L179.47,155.52 L180.65,156.44 L181.84,157.36 L183.04,158.26 L184.23,159.17 L185.43,160.07 L186.63,160.97 L187.83,161.87 L189.03,162.77 L190.23,163.67 L191.43,164.57 L192.63,165.47 L193.84,166.37 L195.04,167.27 L196.24,168.16 L197.46,169.04 L198.67,169.92 L199.9,170.78 L201.14,171.63 L202.39,172.46 L203.64,173.28 L204.9,174.09 L206.17,174.9 L207.43,175.7 L208.7,176.51 L209.97,177.31 L211.23,178.11 L212.5,178.92 L213.77,179.72 L215.04,180.52 L216.3,181.33 L217.57,182.13 L218.84,182.93 L220.11,183.73 L221.37,184.54 L222.64,185.33 L223.92,186.13 L225.19,186.91 L226.48,187.67 L227.78,188.4 L229.1,189.09 L230.44,189.72 L231.81,190.3 L233.21,190.83 L234.62,191.31 L236.05,191.76 L237.48,192.17 L238.93,192.57 L240.38,192.94 L241.84,193.28 L243.3,193.61 L244.77,193.91 L246.24,194.18 L247.72,194.43 L249.2,194.65 L250.68,194.84 L252.17,194.99 L253.66,195.11 L255.16,195.21 L256.66,195.3 L258.15,195.37 L259.65,195.43 L261.15,195.49 L262.65,195.53 L264.15,195.55 L265.65,195.55 L267.15,195.53 L268.64,195.49 L270.14,195.44 L271.64,195.39 L273.14,195.32 L274.64,195.27 L276.14,195.21 L277.64,195.18 L279.14,195.16 L280.63,195.16 L282.13,195.19 L283.62,195.25 L285.11,195.35 L286.59,195.5 L288.06,195.71 L289.5,195.99 L290.93,196.35 L292.34,196.79 L293.74,197.3 L295.12,197.86 L296.48,198.46 L297.83,199.09 L299.16,199.76 L300.46,200.48 L301.72,201.25 L302.94,202.09 L304.12,202.99 L305.27,203.93 L306.4,204.91 L307.51,205.92 L308.61,206.93 L309.71,207.94 L310.82,208.94 L311.94,209.93 L313.08,210.88 L314.21,211.79 L315.33,212.64 L316.4,213.41 L317.37,214.08 L318.2,214.64 L320,215.8" stroke="#000000" stroke-width="3.5" fill="none" stroke-linejoin="round"/>
<path d="M143,130 L144.3,132.08 L144.87,132.99 L145.52,134.05 L146.23,135.2 L146.98,136.42 L147.74,137.68 L148.51,138.96 L149.28,140.25 L150.05,141.53 L150.83,142.81 L151.62,144.09 L152.43,145.35 L153.27,146.6 L154.12,147.83 L154.98,149.06 L155.86,150.27 L156.76,151.48 L157.67,152.67 L158.6,153.83 L159.57,154.97 L160.57,156.08 L161.61,157.15 L162.68,158.19 L163.78,159.21 L164.89,160.21 L166.02,161.2 L167.15,162.19 L168.28,163.17 L169.42,164.15 L170.56,165.13 L171.72,166.09 L172.88,167.03 L174.06,167.96 L175.26,168.85 L176.49,169.71 L177.73,170.54 L178.99,171.35 L180.27,172.14 L181.55,172.92 L182.83,173.7 L184.12,174.47 L185.41,175.25 L186.69,176.03 L187.97,176.81 L189.25,177.6 L190.52,178.4 L191.79,179.2 L193.06,180.01 L194.32,180.82 L195.58,181.63 L196.84,182.45 L198.1,183.27 L199.36,184.09 L200.62,184.9 L201.88,185.72 L203.14,186.54 L204.41,187.35 L205.68,188.15 L206.95,188.94 L208.24,189.71 L209.54,190.45 L210.86,191.15 L212.2,191.83 L213.55,192.48 L214.91,193.1 L216.28,193.72 L217.65,194.32 L219.03,194.93 L220.41,195.53 L221.78,196.12 L223.16,196.72 L224.54,197.31 L225.92,197.9 L227.31,198.47 L228.71,199.03 L230.11,199.56 L231.52,200.07 L232.93,200.57 L234.36,201.04 L235.78,201.51 L237.21,201.97 L238.64,202.42 L240.08,202.87 L241.51,203.32 L242.94,203.77 L244.38,204.22 L245.81,204.67 L247.25,205.11 L248.69,205.54 L250.13,205.96 L251.57,206.38 L253.02,206.78 L254.46,207.18 L255.91,207.57 L257.36,207.96 L258.82,208.34 L260.27,208.71 L261.73,209.06 L263.19,209.4 L264.66,209.7 L266.13,209.98 L267.61,210.23 L269.09,210.45 L270.58,210.65 L272.07,210.84 L273.56,211.02 L275.05,211.2 L276.54,211.38 L278.03,211.56 L279.52,211.74 L281.01,211.92 L282.51,212.1 L284,212.27 L285.49,212.43 L286.98,212.58 L288.48,212.72 L289.97,212.83 L291.47,212.92 L292.97,212.98 L294.47,213.03 L295.97,213.07 L297.47,213.09 L298.97,213.12 L300.48,213.14 L301.98,213.16 L303.48,213.18 L304.98,213.2 L306.48,213.22 L307.98,213.24 L309.48,213.26 L310.97,213.28 L312.44,213.3 L313.88,213.32 L315.23,213.34 L316.47,213.35 L317.54,213.37 L320,213.4" stroke="#ff0000" stroke-width="3" fill="none" stroke-linejoin="round"/>
<path d="M135,95 L136.75,96.72 L137.51,97.47 L138.39,98.34 L139.35,99.3 L140.35,100.32 L141.38,101.37 L142.4,102.45 L143.42,103.54 L144.43,104.65 L145.42,105.78 L146.39,106.92 L147.35,108.07 L148.29,109.23 L149.22,110.41 L150.15,111.59 L151.07,112.77 L151.99,113.96 L152.91,115.14 L153.83,116.33 L154.74,117.52 L155.65,118.71 L156.55,119.91 L157.44,121.11 L158.31,122.33 L159.16,123.56 L159.99,124.81 L160.79,126.08 L161.57,127.36 L162.35,128.64 L163.11,129.93 L163.87,131.22 L164.63,132.52 L165.38,133.81 L166.14,135.11 L166.89,136.4 L167.65,137.7 L168.4,139 L169.15,140.3 L169.9,141.6 L170.64,142.9 L171.39,144.2 L172.13,145.51 L172.87,146.81 L173.61,148.12 L174.35,149.42 L175.1,150.72 L175.85,152.02 L176.61,153.31 L177.38,154.6 L178.16,155.87 L178.97,157.13 L179.81,158.38 L180.66,159.61 L181.52,160.83 L182.4,162.05 L183.28,163.26 L184.17,164.47 L185.06,165.68 L185.95,166.88 L186.85,168.08 L187.76,169.27 L188.69,170.45 L189.63,171.61 L190.6,172.75 L191.59,173.87 L192.6,174.98 L193.63,176.07 L194.67,177.15 L195.71,178.22 L196.76,179.3 L197.81,180.37 L198.86,181.44 L199.91,182.51 L200.97,183.57 L202.03,184.64 L203.09,185.69 L204.17,186.74 L205.25,187.77 L206.35,188.8 L207.45,189.81 L208.57,190.81 L209.69,191.8 L210.82,192.79 L211.96,193.76 L213.12,194.71 L214.29,195.64 L215.48,196.54 L216.69,197.42 L217.92,198.27 L219.17,199.1 L220.43,199.92 L221.69,200.73 L222.96,201.53 L224.23,202.33 L225.5,203.11 L226.78,203.89 L228.08,204.63 L229.39,205.35 L230.72,206.03 L232.07,206.68 L233.43,207.29 L234.81,207.86 L236.2,208.41 L237.61,208.93 L239.02,209.42 L240.44,209.87 L241.88,210.29 L243.33,210.68 L244.78,211.04 L246.24,211.39 L247.7,211.73 L249.16,212.06 L250.62,212.39 L252.09,212.72 L253.55,213.05 L255.01,213.38 L256.48,213.7 L257.94,214.03 L259.4,214.36 L260.87,214.68 L262.33,215.01 L263.8,215.33 L265.26,215.65 L266.73,215.97 L268.2,216.29 L269.66,216.6 L271.13,216.89 L272.6,217.17 L274.07,217.42 L275.55,217.64 L277.04,217.81 L278.52,217.93 L280.02,218.03 L281.51,218.1 L283.01,218.15 L284.51,218.19 L286.01,218.23 L287.51,218.26 L289.01,218.3 L290.51,218.33 L292.01,218.36 L293.51,218.4 L295.01,218.43 L296.51,218.47 L298,218.5 L299.5,218.53 L301,218.57 L302.5,218.6 L304,218.64 L305.5,218.67 L307,218.7 L308.5,218.74 L309.99,218.77 L311.48,218.81 L312.94,218.84 L314.35,218.87 L315.67,218.9 L316.86,218.93 L317.86,218.95 L320,219" stroke="#0000ff" stroke-width="3.3" fill="none" stroke-linejoin="round"/>
<path d="M124.7,120.8 L126.98,120.74 L128.44,120.32 L130.02,120.87 L131.14,120.69 L132.24,120.32 L133.69,120.74 L135.36,121.32 L136.95,120.69 L138.77,119.65 L139.93,120.24 L140.85,119.38 L141.81,119.85 L143.33,120.66 L145.29,119.15 L146.28,118.21 L147.88,119.64 L149.2,119.13 L151.71,117.98 L153.27,117.94 L154.78,117.84 L156.08,118.27 L157.43,117.33 L158.27,118.42 L159.99,119.92 L161.68,120.29 L163.18,119.66 L164.57,120.53 L166.1,120.36 L166.7,122.19 L168.74,122.68 L169.44,122.2 L170.24,123.55 L172.5,123.4" stroke="#008080" stroke-width="3.4" fill="none" stroke-linejoin="round"/>
<path d="M173.97,124.22 L173.4,120.48 L172.83,118.92 L173.26,118.34 L173.64,116.77 L173.64,114.9 L173.57,113.95 L173.57,113.18 L173.46,110.97 L173.99,108.3 L173.19,107.66 L173.11,105.35 L173.24,104.74 L173.34,104.63 L174.1,101.85 L175.12,99.86 L175.08,100.82 L175.17,99.56 L175.6,97.6 L176.96,97.03 L177.9,96.44 L178.86,96.5 L180.77,94.97 L182.53,95.91 L183.38,97.42 L184.91,97.61 L186.13,96.66 L188.07,97.52 L190.25,97.17 L191.88,99.24 L192.81,99.79 L193.98,99.28 L195.3,101.1 L196.17,100.45 L198.18,101.28 L199.16,102.92 L200.52,104.52 L201.07,105.13 L201.47,105.6 L203.19,106.64 L203.21,108.08 L203.37,109.41 L205.85,111.18 L207.14,111.82 L207.51,112.07 L207.8,112.44 L208.77,113.84 L209.64,116.05 L210.13,116.54 L210.74,118.1 L211.94,119.13 L212.75,122.28 L212.69,123.68 L214.49,124.94 L214.97,125.8 L216.25,126.72 L217.47,126.74 L218.55,128.33 L219.81,129.87 L220.36,131.11 L220.36,132.19 L222.17,133.6 L222.66,133.46 L223.07,136.07 L224.74,136.52 L225.1,137.5 L226.39,139.33 L227.42,139.43 L227.76,141 L229.37,143.05 L230.05,143.27 L230.78,145.13 L231.44,145.99 L232.63,148.2 L233.82,149.26 L234.82,149.88 L235.84,151.51 L236.36,153.03 L237.72,155.08 L237.17,155.7 L237.59,156.11 L238.48,158.17 L239.69,159.21 L239.69,159.64 L240.78,161.74 L242.32,163.3 L242.9,164.49 L243.18,166.15 L243.43,167.48 L245.52,168.28 L246.2,170.31 L246.23,171.35 L247.36,171.75 L248.39,172.12 L249.14,173.04 L250.08,175.96 L250.1,176.76 L250.97,179.08 L251.88,180.25 L253.26,182.41 L254.09,182.14 L254.47,183.23 L254.92,184.83 L256.68,184.41 L257.83,186.8 L258.44,188.51 L259.63,189.39 L260.09,190.22 L261.27,191 L261.91,192.93 L263.08,193.8 L264.07,194.11 L265.35,195.42 L265.79,197.62 L266.6,198.88 L267.39,200.15 L268.16,201.43 L268.93,202.72 L269.69,204.01 L270.45,205.31 L271.21,206.6 L271.97,207.9 L272.73,209.18 L273.49,210.46 L274.26,211.71 L275.04,212.91 L275.85,214 L276.71,214.93 L277.63,215.63 L278.62,216.04 L279.69,216.15 L280.84,215.98 L282.05,215.58 L283.3,215.02 L284.57,214.37 L285.87,213.68 L287.17,212.97 L288.49,212.29 L289.82,211.67 L291.17,211.12 L292.55,210.67 L293.96,210.34 L295.39,210.12 L296.85,210.02 L298.31,210.02 L299.76,210.12 L301.2,210.33 L302.63,210.64 L304.03,211.06 L305.41,211.56 L306.77,212.13 L308.13,212.75 L309.48,213.39 L310.82,214.03 L312.16,214.66 L313.49,215.28 L314.77,215.85 L315.99,216.37 L317.08,216.83 L318.01,217.21 L320,218" stroke="#008080" stroke-width="3.4" fill="none" stroke-linejoin="round"/>
<path d="M142.6,106.6 L144.91,107.45 L145.91,107.83 L147.07,108.26 L148.34,108.75 L149.67,109.27 L151.02,109.83 L152.37,110.43 L153.71,111.09 L155.01,111.8 L156.29,112.56 L157.55,113.37 L158.78,114.22 L160,115.09 L161.22,115.97 L162.43,116.86 L163.64,117.75 L164.85,118.64 L166.05,119.54 L167.25,120.45 L168.44,121.36 L169.61,122.3 L170.77,123.25 L171.9,124.23 L173.02,125.24 L174.11,126.26 L175.19,127.3 L176.27,128.35 L177.34,129.41 L178.41,130.47 L179.47,131.52 L180.54,132.58 L181.61,133.64 L182.67,134.7 L183.74,135.76 L184.8,136.82 L185.87,137.88 L186.94,138.94 L188.01,140 L189.07,141.05 L190.14,142.11 L191.21,143.17 L192.28,144.22 L193.35,145.28 L194.42,146.33 L195.49,147.39 L196.56,148.44 L197.64,149.49 L198.72,150.54 L199.8,151.58 L200.9,152.6 L202.01,153.61 L203.15,154.59 L204.3,155.54 L205.47,156.48 L206.66,157.4 L207.86,158.31 L209.06,159.21 L210.26,160.11 L211.47,161 L212.68,161.9 L213.89,162.79 L215.09,163.69 L216.3,164.58 L217.51,165.48 L218.72,166.37 L219.92,167.27 L221.13,168.16 L222.34,169.06 L223.55,169.95 L224.75,170.85 L225.96,171.74 L227.17,172.64 L228.38,173.53 L229.59,174.42 L230.81,175.3 L232.02,176.19 L233.23,177.08 L234.45,177.96 L235.66,178.85 L236.88,179.73 L238.09,180.62 L239.31,181.5 L240.52,182.39 L241.73,183.28 L242.95,184.16 L244.16,185.05 L245.37,185.94 L246.59,186.83 L247.8,187.72 L249.01,188.6 L250.23,189.49 L251.45,190.36 L252.67,191.23 L253.91,192.09 L255.15,192.92 L256.41,193.75 L257.68,194.55 L258.95,195.35 L260.24,196.13 L261.52,196.91 L262.81,197.68 L264.1,198.46 L265.39,199.23 L266.68,199.99 L267.98,200.76 L269.27,201.51 L270.58,202.26 L271.88,203 L273.19,203.74 L274.51,204.46 L275.83,205.19 L277.15,205.9 L278.48,206.6 L279.82,207.29 L281.16,207.96 L282.51,208.63 L283.86,209.28 L285.22,209.92 L286.58,210.56 L287.94,211.19 L289.31,211.81 L290.68,212.41 L292.06,212.98 L293.46,213.51 L294.87,213.98 L296.3,214.39 L297.75,214.74 L299.21,215.04 L300.68,215.3 L302.16,215.54 L303.65,215.77 L305.13,216 L306.62,216.22 L308.1,216.44 L309.59,216.66 L311.06,216.88 L312.52,217.09 L313.94,217.3 L315.28,217.5 L316.51,217.68 L317.57,217.84 L320,218.2" stroke="#ff00ff" stroke-width="3.6" fill="none" stroke-linejoin="round"/>
</g>
<g clip-path="url(#cb)">
<path d="M424,39.8 L425.75,39.96 L427.05,40.07 L428.49,40.2 L429.98,40.33 L431.48,40.47 L432.97,40.6 L434.47,40.73 L435.96,40.87 L437.46,41 L438.95,41.14 L440.45,41.27 L441.94,41.4 L443.44,41.54 L444.93,41.67 L446.43,41.8 L447.92,41.94 L449.42,42.07 L450.91,42.2 L452.41,42.34 L453.91,42.47 L455.4,42.6 L456.9,42.74 L458.39,42.87 L459.89,43 L461.38,43.14 L462.88,43.27 L464.37,43.4 L465.87,43.54 L467.36,43.67 L468.86,43.81 L470.35,43.94 L471.85,44.07 L473.34,44.21 L474.84,44.34 L476.33,44.48 L477.82,44.63 L479.31,44.83 L480.78,45.09 L482.24,45.43 L483.69,45.8 L485.14,46.19 L486.59,46.58 L488.04,46.97 L489.49,47.36 L490.94,47.75 L492.39,48.14 L493.84,48.54 L495.29,48.93 L496.74,49.32 L498.19,49.71 L499.64,50.1 L501.08,50.49 L502.53,50.88 L503.98,51.28 L505.43,51.67 L506.88,52.06 L508.32,52.47 L509.75,52.92 L511.17,53.41 L512.57,53.95 L513.97,54.5 L515.36,55.06 L516.75,55.62 L518.14,56.18 L519.53,56.75 L520.93,57.31 L522.32,57.87 L523.71,58.43 L525.1,58.99 L526.5,59.55 L527.89,60.11 L529.28,60.68 L530.67,61.24 L532.06,61.8 L533.46,62.36 L534.85,62.92 L536.24,63.49 L537.63,64.06 L539,64.66 L540.35,65.31 L541.66,66.03 L542.96,66.78 L544.25,67.55 L545.54,68.32 L546.82,69.09 L548.11,69.87 L549.4,70.64 L550.68,71.41 L551.97,72.18 L553.26,72.96 L554.55,73.73 L555.83,74.5 L557.12,75.27 L558.41,76.04 L559.7,76.82 L560.98,77.59 L562.27,78.36 L563.56,79.13 L564.84,79.91 L566.13,80.68 L567.42,81.45 L568.71,82.22 L569.99,83 L571.28,83.77 L572.57,84.54 L573.86,85.31 L575.14,86.09 L576.43,86.86 L577.72,87.62 L579.03,88.36 L580.35,89.05 L581.71,89.7 L583.08,90.3 L584.46,90.89 L585.84,91.48 L587.22,92.07 L588.6,92.66 L589.98,93.24 L591.37,93.83 L592.75,94.42 L594.13,95 L595.51,95.59 L596.89,96.18 L598.28,96.76 L599.66,97.34 L601.05,97.9 L602.45,98.46 L603.84,99.01 L605.24,99.56 L606.64,100.11 L608.03,100.66 L609.43,101.21 L610.83,101.76 L612.22,102.31 L613.62,102.86 L615.02,103.4 L616.42,103.93 L617.84,104.44 L619.25,104.94 L620.67,105.42 L622.09,105.91 L623.52,106.39 L624.94,106.87 L626.36,107.36 L627.78,107.83 L629.22,108.27 L630.66,108.66 L632.12,108.99 L633.59,109.3 L635.06,109.59 L636.54,109.87 L638.01,110.16 L639.48,110.45 L640.96,110.74 L642.43,111.02 L643.9,111.31 L645.38,111.6 L646.85,111.89 L648.32,112.2 L649.77,112.55 L651.22,112.96 L652.65,113.41 L654.07,113.89 L655.49,114.37 L656.91,114.85 L658.33,115.33 L659.75,115.82 L661.18,116.3 L662.6,116.79 L664.01,117.29 L665.42,117.81 L666.81,118.36 L668.2,118.93 L669.55,119.54 L670.81,120.27 L671.94,121.18 L672.93,122.25 L673.84,123.43 L674.72,124.64 L675.6,125.85 L676.47,127.08 L677.32,128.31 L678.1,129.57 L678.76,130.89 L679.29,132.28 L679.74,133.7 L680.15,135.15 L680.54,136.59 L680.91,138.04 L681.21,139.51 L681.39,140.98 L681.47,142.47 L681.5,143.97 L681.5,145.47 L681.5,146.97 L681.5,148.47 L681.5,149.97 L681.5,151.47 L681.5,152.98 L681.5,154.48 L681.5,155.98 L681.5,157.48 L681.5,158.98 L681.5,160.48 L681.5,161.98 L681.5,163.48 L681.5,164.99 L681.5,166.49 L681.5,167.99 L681.5,169.49 L681.5,170.99 L681.5,172.49 L681.5,173.99 L681.5,175.49 L681.5,176.99 L681.5,178.49 L681.5,179.94 L681.5,181.24 L681.5,183" stroke="#008080" stroke-width="1.15" stroke-dasharray="5 4.5" fill="none"/>
<path d="M424,42.2 L425.74,42.43 L427.03,42.6 L428.47,42.79 L429.95,42.99 L431.44,43.18 L432.92,43.38 L434.41,43.58 L435.9,43.77 L437.38,43.97 L438.87,44.17 L440.36,44.36 L441.85,44.56 L443.33,44.75 L444.82,44.95 L446.31,45.15 L447.8,45.34 L449.28,45.54 L450.77,45.74 L452.26,45.93 L453.74,46.13 L455.23,46.33 L456.72,46.52 L458.21,46.72 L459.69,46.92 L461.18,47.11 L462.67,47.31 L464.15,47.51 L465.64,47.7 L467.13,47.9 L468.62,48.1 L470.1,48.29 L471.59,48.49 L473.08,48.69 L474.56,48.88 L476.05,49.08 L477.54,49.29 L479.02,49.51 L480.49,49.78 L481.96,50.09 L483.42,50.44 L484.88,50.79 L486.33,51.14 L487.79,51.5 L489.25,51.85 L490.71,52.21 L492.16,52.56 L493.62,52.91 L495.08,53.27 L496.54,53.62 L497.99,53.98 L499.45,54.33 L500.91,54.69 L502.37,55.04 L503.82,55.4 L505.28,55.75 L506.74,56.11 L508.19,56.47 L509.65,56.85 L511.09,57.25 L512.53,57.67 L513.97,58.1 L515.4,58.54 L516.84,58.97 L518.27,59.41 L519.71,59.85 L521.14,60.28 L522.58,60.72 L524.02,61.15 L525.45,61.59 L526.89,62.02 L528.32,62.46 L529.76,62.89 L531.19,63.33 L532.63,63.76 L534.06,64.2 L535.5,64.64 L536.93,65.08 L538.36,65.53 L539.77,66.03 L541.16,66.59 L542.54,67.18 L543.9,67.81 L545.26,68.43 L546.62,69.06 L547.99,69.69 L549.35,70.32 L550.71,70.95 L552.07,71.58 L553.43,72.21 L554.79,72.84 L556.16,73.47 L557.52,74.1 L558.88,74.73 L560.24,75.36 L561.6,75.99 L562.96,76.62 L564.32,77.25 L565.69,77.88 L567.05,78.51 L568.41,79.14 L569.77,79.77 L571.13,80.4 L572.49,81.03 L573.86,81.66 L575.22,82.29 L576.58,82.92 L577.94,83.54 L579.32,84.14 L580.7,84.72 L582.09,85.27 L583.49,85.81 L584.9,86.34 L586.3,86.86 L587.71,87.39 L589.11,87.92 L590.52,88.44 L591.92,88.97 L593.33,89.5 L594.73,90.02 L596.13,90.55 L597.54,91.08 L598.94,91.62 L600.33,92.18 L601.71,92.75 L603.09,93.34 L604.47,93.94 L605.85,94.53 L607.22,95.13 L608.6,95.73 L609.98,96.32 L611.35,96.92 L612.73,97.52 L614.11,98.11 L615.48,98.71 L616.86,99.31 L618.24,99.9 L619.61,100.5 L620.99,101.1 L622.36,101.69 L623.74,102.29 L625.12,102.88 L626.49,103.48 L627.87,104.07 L629.26,104.65 L630.65,105.2 L632.05,105.73 L633.46,106.24 L634.87,106.75 L636.29,107.26 L637.7,107.77 L639.11,108.28 L640.52,108.79 L641.93,109.3 L643.34,109.8 L644.75,110.31 L646.17,110.82 L647.58,111.33 L648.99,111.84 L650.39,112.36 L651.8,112.89 L653.2,113.43 L654.6,113.97 L656,114.51 L657.4,115.05 L658.8,115.58 L660.2,116.12 L661.6,116.66 L663,117.2 L664.4,117.74 L665.8,118.28 L667.2,118.81 L668.6,119.35 L670,119.89 L671.4,120.43 L672.8,120.95 L674.21,121.47 L675.63,121.97 L677.04,122.47 L678.46,122.96 L679.88,123.45 L681.29,123.95 L682.71,124.44 L684.13,124.93 L685.54,125.43 L686.96,125.92 L688.37,126.41 L689.78,126.91 L691.15,127.41 L692.36,127.86 L694,128.5" stroke="#ff0000" stroke-width="1.15" stroke-dasharray="5 4.5" fill="none"/>
<path d="M424,44.6 L425.75,44.76 L427.05,44.87 L428.49,45 L429.98,45.13 L431.47,45.27 L432.97,45.4 L434.46,45.53 L435.96,45.67 L437.45,45.8 L438.95,45.93 L440.44,46.07 L441.94,46.2 L443.43,46.33 L444.93,46.47 L446.42,46.6 L447.92,46.74 L449.41,46.87 L450.9,47 L452.4,47.14 L453.89,47.27 L455.39,47.4 L456.88,47.54 L458.38,47.67 L459.87,47.8 L461.37,47.94 L462.86,48.07 L464.36,48.2 L465.85,48.34 L467.35,48.47 L468.84,48.6 L470.34,48.74 L471.83,48.87 L473.33,49 L474.82,49.14 L476.31,49.27 L477.81,49.41 L479.3,49.57 L480.79,49.76 L482.27,49.98 L483.75,50.21 L485.23,50.46 L486.72,50.7 L488.2,50.94 L489.68,51.18 L491.16,51.42 L492.64,51.66 L494.12,51.91 L495.6,52.15 L497.08,52.39 L498.56,52.63 L500.05,52.87 L501.53,53.12 L503.01,53.36 L504.49,53.6 L505.97,53.84 L507.45,54.08 L508.93,54.31 L510.42,54.54 L511.9,54.75 L513.39,54.95 L514.88,55.15 L516.36,55.35 L517.85,55.55 L519.34,55.75 L520.83,55.94 L522.31,56.14 L523.8,56.34 L525.29,56.54 L526.78,56.74 L528.26,56.94 L529.75,57.13 L531.24,57.33 L532.73,57.53 L534.21,57.73 L535.7,57.93 L537.18,58.14 L538.65,58.41 L540.1,58.76 L541.5,59.24 L542.89,59.8 L544.26,60.4 L545.64,61.01 L547.01,61.62 L548.38,62.23 L549.75,62.84 L551.12,63.45 L552.49,64.06 L553.86,64.67 L555.23,65.28 L556.6,65.89 L557.97,66.5 L559.35,67.11 L560.72,67.72 L562.09,68.33 L563.46,68.94 L564.83,69.55 L566.2,70.16 L567.57,70.77 L568.94,71.38 L570.31,71.99 L571.69,72.6 L573.06,73.21 L574.43,73.82 L575.8,74.43 L577.17,75.05 L578.53,75.67 L579.87,76.33 L581.2,77.03 L582.51,77.76 L583.81,78.51 L585.11,79.26 L586.41,80.02 L587.7,80.77 L589,81.52 L590.3,82.27 L591.6,83.03 L592.9,83.78 L594.2,84.52 L595.51,85.25 L596.83,85.97 L598.15,86.68 L599.48,87.39 L600.8,88.09 L602.12,88.8 L603.45,89.51 L604.77,90.21 L606.1,90.92 L607.42,91.63 L608.72,92.36 L610,93.14 L611.25,93.97 L612.47,94.84 L613.68,95.73 L614.86,96.64 L615.99,97.61 L617.05,98.66 L618.03,99.78 L618.98,100.94 L619.91,102.12 L620.84,103.29 L621.76,104.48 L622.63,105.69 L623.39,106.95 L624.02,108.29 L624.53,109.69 L624.98,111.11 L625.43,112.55 L625.87,113.98 L626.3,115.42 L626.74,116.85 L627.18,118.29 L627.62,119.72 L628.06,121.16 L628.5,122.59 L628.93,124.03 L629.35,125.47 L629.71,126.92 L629.99,128.38 L630.19,129.87 L630.34,131.36 L630.48,132.85 L630.61,134.35 L630.74,135.84 L630.87,137.34 L631.01,138.83 L631.14,140.32 L631.27,141.82 L631.41,143.31 L631.54,144.81 L631.67,146.3 L631.79,147.8 L631.9,149.3 L631.96,150.79 L632,152.29 L632.02,153.79 L632.02,155.29 L632.03,156.79 L632.04,158.29 L632.05,159.8 L632.05,161.3 L632.06,162.8 L632.07,164.3 L632.07,165.8 L632.08,167.28 L632.09,168.7 L632.09,169.91 L632.1,171.3" stroke="#ff00ff" stroke-width="1.15" stroke-dasharray="5 4.5" fill="none"/>
<path d="M635.4,122 L636.5,120.62 L637.31,119.61 L638.22,118.48 L639.18,117.34 L640.19,116.29 L641.32,115.42 L642.61,114.8 L644.01,114.37 L645.46,114.02 L646.92,113.72 L648.36,113.53 L649.77,113.57 L651.12,113.93 L652.43,114.54 L653.72,115.28 L655,116.06 L656.27,116.86 L657.49,117.7 L658.59,118.66 L659.54,119.77 L660.36,121 L661.11,122.29 L661.85,123.59 L662.59,124.9 L663.32,126.22 L664.05,127.53 L664.75,128.85 L665.36,130.2 L665.8,131.6 L666.08,133.05 L666.24,134.53 L666.36,136.03 L666.47,137.52 L666.57,139.02 L666.68,140.52 L666.78,142.02 L666.87,143.52 L666.93,145.02 L666.94,146.52 L666.93,148.03 L666.9,149.53 L666.87,151.03 L666.83,152.53 L666.8,154.04 L666.77,155.54 L666.74,157.04 L666.7,158.54 L666.67,160.05 L666.64,161.55 L666.6,163.05 L666.57,164.55 L666.54,166.06 L666.51,167.56 L666.47,169.06 L666.44,170.56 L666.41,172.07 L666.37,173.57 L666.34,175.07 L666.31,176.58 L666.27,178.08 L666.24,179.58 L666.21,181.08 L666.18,182.59 L666.14,184.09 L666.11,185.59 L666.08,187.06 L666.05,188.43 L666.02,189.53 L666,190.6" stroke="#ff00ff" stroke-width="1.15" stroke-dasharray="5 4.5" fill="none"/>
<path d="M672,140 L672.27,138.26 L672.47,136.98 L672.7,135.54 L672.94,134.07 L673.21,132.6 L673.57,131.15 L674.03,129.73 L674.57,128.34 L675.15,126.96 L675.74,125.58 L676.34,124.2 L676.94,122.82 L677.55,121.45 L678.2,120.12 L678.97,118.87 L679.89,117.72 L680.93,116.67 L682.03,115.66 L683.16,114.66 L684.28,113.67 L685.41,112.68 L686.54,111.7 L687.69,110.73 L688.85,109.78 L690.03,108.85 L691.2,107.95 L692.28,107.12 L693.15,106.45 L694,105.8" stroke="#ff00ff" stroke-width="1.15" stroke-dasharray="5 4.5" fill="none"/>
<path d="M424,44.6 L425.75,44.77 L427.05,44.89 L428.49,45.03 L429.98,45.18 L431.48,45.32 L432.97,45.47 L434.47,45.61 L435.96,45.75 L437.46,45.9 L438.95,46.04 L440.45,46.19 L441.94,46.33 L443.44,46.47 L444.94,46.62 L446.43,46.76 L447.93,46.91 L449.42,47.05 L450.92,47.2 L452.41,47.34 L453.91,47.48 L455.4,47.63 L456.9,47.77 L458.39,47.92 L459.89,48.06 L461.38,48.2 L462.88,48.35 L464.37,48.49 L465.87,48.64 L467.37,48.78 L468.86,48.93 L470.36,49.07 L471.85,49.21 L473.35,49.36 L474.84,49.5 L476.34,49.65 L477.83,49.8 L479.33,49.96 L480.82,50.15 L482.3,50.35 L483.79,50.57 L485.28,50.79 L486.76,51.01 L488.25,51.24 L489.73,51.46 L491.22,51.68 L492.7,51.91 L494.19,52.13 L495.68,52.35 L497.16,52.57 L498.65,52.8 L500.13,53.02 L501.62,53.24 L503.1,53.47 L504.59,53.69 L506.08,53.91 L507.56,54.14 L509.04,54.37 L510.53,54.61 L512.01,54.87 L513.48,55.14 L514.96,55.41 L516.44,55.68 L517.92,55.95 L519.4,56.22 L520.87,56.49 L522.35,56.76 L523.83,57.04 L525.31,57.31 L526.78,57.58 L528.26,57.85 L529.74,58.12 L531.22,58.39 L532.69,58.66 L534.17,58.93 L535.65,59.2 L537.12,59.49 L538.59,59.81 L540.02,60.21 L541.43,60.7 L542.82,61.27 L544.19,61.87 L545.57,62.48 L546.94,63.09 L548.31,63.7 L549.68,64.31 L551.06,64.92 L552.43,65.53 L553.8,66.14 L555.17,66.75 L556.55,67.36 L557.92,67.97 L559.29,68.59 L560.67,69.2 L562.04,69.81 L563.41,70.42 L564.78,71.03 L566.16,71.64 L567.53,72.25 L568.9,72.86 L570.27,73.47 L571.65,74.08 L573.02,74.69 L574.39,75.3 L575.76,75.92 L577.13,76.53 L578.5,77.15 L579.85,77.8 L581.19,78.48 L582.52,79.18 L583.84,79.9 L585.16,80.62 L586.48,81.34 L587.79,82.06 L589.11,82.78 L590.43,83.5 L591.75,84.22 L593.07,84.93 L594.41,85.62 L595.76,86.27 L597.13,86.89 L598.51,87.48 L599.89,88.07 L601.27,88.65 L602.66,89.24 L604.04,89.82 L605.42,90.41 L606.8,91.01 L608.15,91.65 L609.47,92.36 L610.74,93.15 L611.97,93.99 L613.2,94.86 L614.42,95.73 L615.65,96.6 L616.87,97.48 L618.09,98.35 L619.31,99.22 L620.54,100.1 L621.76,100.97 L622.98,101.85 L624.19,102.73 L625.39,103.64 L626.55,104.59 L627.67,105.58 L628.75,106.61 L629.78,107.7 L630.74,108.85 L631.64,110.04 L632.52,111.26 L633.38,112.49 L634.25,113.71 L635.11,114.95 L635.95,116.19 L636.74,117.46 L637.45,118.78 L638.1,120.13 L638.71,121.5 L639.32,122.87 L639.92,124.24 L640.52,125.62 L641.1,127.01 L641.61,128.41 L642.06,129.84 L642.44,131.29 L642.8,132.75 L643.14,134.21 L643.48,135.67 L643.82,137.14 L644.12,138.6 L644.36,140.08 L644.51,141.57 L644.61,143.07 L644.68,144.57 L644.74,146.07 L644.8,147.57 L644.86,149.07 L644.92,150.57 L644.98,152.07 L645.04,153.57 L645.1,155.07 L645.16,156.57 L645.21,158.08 L645.27,159.58 L645.33,161.08 L645.39,162.58 L645.45,164.08 L645.51,165.58 L645.57,167.08 L645.63,168.58 L645.69,170.08 L645.75,171.59 L645.81,173.09 L645.87,174.59 L645.93,176.09 L645.99,177.59 L646.05,179.09 L646.1,180.59 L646.16,182.09 L646.22,183.59 L646.28,185.09 L646.34,186.58 L646.4,188 L646.44,189.21 L646.5,190.6" stroke="#0000ff" stroke-width="1.15" stroke-dasharray="5 4.5" fill="none"/>
<path d="M648,147 L648.25,145.25 L648.44,143.97 L648.68,142.54 L649,141.1 L649.48,139.71 L650.13,138.38 L650.89,137.1 L651.7,135.84 L652.57,134.64 L653.54,133.55 L654.66,132.63 L655.92,131.89 L657.25,131.32 L658.6,131 L659.96,131.06 L661.32,131.44 L662.66,132.02 L663.91,132.76 L664.99,133.69 L665.9,134.82 L666.69,136.07 L667.44,137.37 L668.19,138.67 L668.97,139.95 L669.79,141.21 L670.64,142.45 L671.51,143.68 L672.38,144.9 L673.25,146.13 L674.1,147.36 L674.87,148.62 L675.47,149.94 L675.83,151.33 L675.99,152.79 L676.04,154.28 L676.06,155.78 L676.08,157.29 L676.1,158.79 L676.11,160.3 L676.13,161.8 L676.15,163.31 L676.16,164.81 L676.18,166.32 L676.2,167.82 L676.21,169.32 L676.23,170.83 L676.25,172.33 L676.26,173.84 L676.28,175.34 L676.3,176.85 L676.31,178.35 L676.33,179.85 L676.35,181.36 L676.36,182.86 L676.38,184.37 L676.4,185.87 L676.41,187.38 L676.43,188.88 L676.44,190.38 L676.46,191.86 L676.48,193.23 L676.49,194.33 L676.5,195.4" stroke="#0000ff" stroke-width="1.15" stroke-dasharray="5 4.5" fill="none"/>
<path d="M681,150 L681.24,148.25 L681.43,146.96 L681.63,145.52 L681.84,144.04 L682.06,142.56 L682.34,141.08 L682.7,139.63 L683.16,138.21 L683.69,136.81 L684.24,135.41 L684.81,134.02 L685.41,132.64 L686.08,131.31 L686.87,130.05 L687.73,128.83 L688.65,127.64 L689.58,126.45 L690.51,125.27 L691.44,124.11 L692.34,123.01 L693.11,122.07 L694,121" stroke="#0000ff" stroke-width="1.15" stroke-dasharray="5 4.5" fill="none"/>
<path d="M424,56.6 L425.72,56.22 L426.99,55.95 L428.41,55.64 L429.86,55.32 L431.33,55 L432.8,54.68 L434.26,54.36 L435.73,54.04 L437.19,53.72 L438.66,53.4 L440.13,53.08 L441.59,52.76 L443.06,52.45 L444.53,52.16 L446.01,51.93 L447.49,51.77 L448.99,51.66 L450.49,51.58 L451.98,51.5 L453.48,51.43 L454.98,51.35 L456.48,51.28 L457.98,51.2 L459.48,51.13 L460.98,51.05 L462.47,50.98 L463.97,50.9 L465.47,50.83 L466.97,50.75 L468.47,50.67 L469.97,50.59 L471.46,50.51 L472.96,50.42 L474.46,50.33 L475.96,50.25 L477.46,50.17 L478.95,50.14 L480.44,50.19 L481.93,50.33 L483.41,50.52 L484.9,50.74 L486.38,50.96 L487.87,51.18 L489.35,51.4 L490.83,51.63 L492.32,51.85 L493.8,52.07 L495.29,52.29 L496.77,52.52 L498.25,52.74 L499.74,52.96 L501.22,53.18 L502.71,53.41 L504.19,53.63 L505.67,53.85 L507.16,54.08 L508.64,54.32 L510.11,54.6 L511.57,54.92 L513.03,55.26 L514.49,55.62 L515.95,55.99 L517.4,56.35 L518.86,56.71 L520.31,57.08 L521.77,57.44 L523.22,57.81 L524.68,58.17 L526.14,58.53 L527.59,58.9 L529.05,59.26 L530.5,59.63 L531.96,59.99 L533.41,60.35 L534.87,60.72 L536.32,61.09 L537.77,61.47 L539.2,61.9 L540.61,62.4 L541.99,62.98 L543.35,63.6 L544.71,64.24 L546.07,64.88 L547.42,65.52 L548.78,66.17 L550.13,66.81 L551.49,67.46 L552.84,68.1 L554.2,68.74 L555.55,69.39 L556.91,70.03 L558.26,70.68 L559.62,71.32 L560.97,71.96 L562.33,72.61 L563.68,73.25 L565.04,73.89 L566.4,74.54 L567.75,75.18 L569.11,75.83 L570.46,76.47 L571.82,77.11 L573.17,77.76 L574.53,78.4 L575.88,79.05 L577.24,79.69 L578.58,80.35 L579.91,81.04 L581.23,81.77 L582.52,82.52 L583.81,83.29 L585.1,84.06 L586.38,84.83 L587.67,85.6 L588.96,86.37 L590.24,87.15 L591.53,87.92 L592.82,88.69 L594.1,89.46 L595.39,90.23 L596.68,91.01 L597.96,91.78 L599.25,92.55 L600.54,93.32 L601.82,94.09 L603.11,94.87 L604.4,95.64 L605.68,96.41 L606.97,97.18 L608.27,97.94 L609.58,98.66 L610.91,99.34 L612.27,99.98 L613.64,100.59 L615.01,101.19 L616.39,101.79 L617.76,102.4 L619.14,103 L620.51,103.6 L621.89,104.2 L623.26,104.8 L624.64,105.38 L626.04,105.92 L627.45,106.42 L628.88,106.89 L630.31,107.34 L631.74,107.79 L633.17,108.24 L634.6,108.69 L636.04,109.14 L637.47,109.58 L638.9,110.03 L640.33,110.48 L641.76,110.93 L643.2,111.37 L644.63,111.82 L646.06,112.27 L647.49,112.71 L648.93,113.13 L650.38,113.52 L651.84,113.87 L653.3,114.2 L654.77,114.52 L656.24,114.83 L657.7,115.14 L659.17,115.46 L660.64,115.77 L662.11,116.08 L663.57,116.4 L665.04,116.71 L666.51,117.02 L667.97,117.34 L669.44,117.66 L670.88,118.02 L672.24,118.5 L673.47,119.19 L674.56,120.12 L675.55,121.22 L676.49,122.37 L677.43,123.54 L678.36,124.72 L679.25,125.91 L680.05,127.16 L680.69,128.48 L681.2,129.87 L681.63,131.3 L682.03,132.74 L682.42,134.19 L682.81,135.64 L683.19,137.09 L683.54,138.54 L683.8,140.01 L683.95,141.49 L684.02,142.98 L684.05,144.48 L684.07,145.98 L684.09,147.48 L684.11,148.98 L684.13,150.48 L684.15,151.98 L684.17,153.48 L684.19,154.98 L684.21,156.48 L684.22,157.99 L684.24,159.49 L684.26,160.99 L684.28,162.49 L684.3,163.99 L684.32,165.49 L684.34,166.99 L684.36,168.49 L684.37,169.99 L684.39,171.49 L684.41,172.99 L684.43,174.49 L684.45,175.99 L684.47,177.49 L684.49,178.99 L684.51,180.49 L684.52,181.99 L684.54,183.49 L684.56,184.99 L684.58,186.49 L684.6,187.99 L684.62,189.49 L684.64,190.99 L684.66,192.49 L684.67,193.99 L684.69,195.49 L684.71,196.99 L684.73,198.49 L684.75,200 L684.77,201.5 L684.79,203 L684.81,204.5 L684.82,206 L684.84,207.5 L684.86,209 L684.88,210.5 L684.9,212 L684.92,213.5 L684.94,215 L684.96,216.47 L684.97,217.84 L684.99,218.93 L685,220" stroke="#000000" stroke-width="1.15" stroke-dasharray="5 4.5" fill="none"/>
<path d="M424,28.4 L426.42,28.84 L427.47,29.02 L428.69,29.24 L430.03,29.48 L431.44,29.74 L432.88,30 L434.35,30.26 L435.82,30.53 L437.3,30.79 L438.78,31.06 L440.26,31.33 L441.74,31.59 L443.21,31.86 L444.69,32.12 L446.17,32.39 L447.65,32.66 L449.12,32.92 L450.6,33.19 L452.08,33.45 L453.56,33.72 L455.04,33.99 L456.51,34.25 L457.99,34.52 L459.47,34.78 L460.95,35.05 L462.43,35.32 L463.9,35.58 L465.38,35.85 L466.86,36.11 L468.34,36.38 L469.82,36.65 L471.29,36.91 L472.77,37.18 L474.25,37.44 L475.73,37.71 L477.21,37.98 L478.68,38.24 L480.16,38.51 L481.64,38.78 L483.12,39.04 L484.59,39.31 L486.07,39.57 L487.55,39.84 L489.03,40.11 L490.51,40.37 L491.98,40.64 L493.46,40.9 L494.94,41.17 L496.42,41.44 L497.9,41.7 L499.37,41.97 L500.85,42.23 L502.33,42.5 L503.81,42.77 L505.29,43.03 L506.76,43.3 L508.24,43.57 L509.72,43.84 L511.19,44.11 L512.67,44.38 L514.15,44.67 L515.62,44.95 L517.09,45.24 L518.57,45.54 L520.04,45.84 L521.51,46.14 L522.98,46.44 L524.45,46.74 L525.92,47.04 L527.39,47.34 L528.87,47.64 L530.34,47.94 L531.81,48.24 L533.28,48.54 L534.75,48.84 L536.22,49.14 L537.69,49.44 L539.16,49.74 L540.64,50.04 L542.11,50.34 L543.58,50.64 L545.05,50.94 L546.52,51.25 L547.99,51.55 L549.46,51.85 L550.93,52.15 L552.4,52.45 L553.87,52.76 L555.34,53.07 L556.81,53.38 L558.28,53.71 L559.74,54.06 L561.19,54.42 L562.64,54.8 L564.09,55.19 L565.54,55.58 L566.99,55.99 L568.43,56.4 L569.88,56.81 L571.32,57.22 L572.77,57.63 L574.21,58.04 L575.66,58.45 L577.1,58.86 L578.54,59.27 L579.99,59.68 L581.43,60.09 L582.88,60.5 L584.32,60.91 L585.77,61.32 L587.21,61.73 L588.66,62.14 L590.1,62.55 L591.55,62.96 L592.99,63.37 L594.43,63.78 L595.88,64.19 L597.32,64.6 L598.77,65.01 L600.21,65.42 L601.66,65.82 L603.11,66.23 L604.55,66.63 L606,67.02 L607.45,67.42 L608.9,67.81 L610.35,68.2 L611.8,68.59 L613.25,68.98 L614.7,69.37 L616.15,69.75 L617.6,70.14 L619.05,70.53 L620.5,70.92 L621.96,71.31 L623.41,71.7 L624.86,72.08 L626.31,72.47 L627.76,72.86 L629.21,73.25 L630.66,73.64 L632.11,74.03 L633.56,74.42 L635.01,74.8 L636.46,75.19 L637.91,75.58 L639.36,75.97 L640.81,76.36 L642.26,76.75 L643.71,77.13 L645.16,77.52 L646.61,77.91 L648.07,78.3 L649.52,78.69 L650.97,79.08 L652.42,79.47 L653.87,79.85 L655.32,80.24 L656.77,80.63 L658.22,81.02 L659.67,81.41 L661.12,81.8 L662.57,82.18 L664.02,82.57 L665.47,82.96 L666.92,83.35 L668.37,83.74 L669.82,84.13 L671.27,84.51 L672.73,84.9 L674.18,85.29 L675.63,85.68 L677.08,86.07 L678.53,86.46 L679.98,86.85 L681.43,87.23 L682.88,87.62 L684.32,88.01 L685.76,88.39 L687.17,88.77 L688.53,89.14 L689.81,89.48 L690.96,89.79 L691.93,90.05 L694,90.6" stroke="#000000" stroke-width="1.1" fill="none"/>
<path d="M424,29.4 L426.43,29.78 L427.49,29.94 L428.71,30.13 L430.05,30.34 L431.47,30.56 L432.92,30.79 L434.39,31.02 L435.87,31.25 L437.36,31.48 L438.84,31.71 L440.33,31.94 L441.81,32.17 L443.29,32.4 L444.78,32.63 L446.26,32.86 L447.75,33.09 L449.23,33.32 L450.72,33.56 L452.2,33.79 L453.68,34.02 L455.17,34.25 L456.65,34.48 L458.14,34.71 L459.62,34.94 L461.1,35.17 L462.59,35.4 L464.07,35.63 L465.56,35.86 L467.04,36.1 L468.53,36.33 L470.01,36.56 L471.49,36.79 L472.98,37.02 L474.46,37.25 L475.95,37.48 L477.43,37.71 L478.91,37.94 L480.4,38.17 L481.88,38.4 L483.37,38.63 L484.85,38.87 L486.34,39.1 L487.82,39.33 L489.3,39.56 L490.79,39.79 L492.27,40.02 L493.76,40.25 L495.24,40.48 L496.72,40.71 L498.21,40.94 L499.69,41.17 L501.18,41.41 L502.66,41.64 L504.15,41.87 L505.63,42.1 L507.11,42.34 L508.59,42.58 L510.07,42.83 L511.55,43.09 L513.02,43.38 L514.49,43.69 L515.95,44.03 L517.41,44.38 L518.86,44.76 L520.31,45.14 L521.76,45.53 L523.21,45.93 L524.66,46.32 L526.11,46.72 L527.56,47.11 L529.01,47.51 L530.46,47.91 L531.91,48.3 L533.35,48.7 L534.8,49.1 L536.25,49.5 L537.7,49.89 L539.15,50.29 L540.6,50.69 L542.05,51.08 L543.5,51.48 L544.94,51.88 L546.39,52.27 L547.84,52.67 L549.29,53.07 L550.74,53.46 L552.19,53.86 L553.63,54.26 L555.08,54.66 L556.53,55.07 L557.97,55.48 L559.41,55.91 L560.85,56.34 L562.28,56.79 L563.71,57.24 L565.14,57.7 L566.57,58.17 L568,58.64 L569.42,59.11 L570.85,59.58 L572.28,60.05 L573.7,60.52 L575.13,60.99 L576.56,61.46 L577.98,61.93 L579.41,62.4 L580.84,62.87 L582.26,63.34 L583.69,63.81 L585.12,64.28 L586.54,64.75 L587.97,65.22 L589.4,65.69 L590.82,66.16 L592.25,66.63 L593.68,67.1 L595.1,67.57 L596.53,68.04 L597.96,68.5 L599.39,68.96 L600.82,69.42 L602.25,69.86 L603.69,70.29 L605.13,70.7 L606.58,71.1 L608.03,71.48 L609.49,71.86 L610.94,72.23 L612.4,72.6 L613.86,72.96 L615.31,73.33 L616.77,73.69 L618.23,74.06 L619.68,74.42 L621.14,74.79 L622.6,75.15 L624.06,75.51 L625.51,75.88 L626.97,76.24 L628.43,76.61 L629.88,76.97 L631.34,77.34 L632.8,77.7 L634.26,78.06 L635.71,78.43 L637.17,78.79 L638.63,79.16 L640.08,79.52 L641.54,79.89 L643,80.25 L644.46,80.61 L645.91,80.98 L647.37,81.34 L648.83,81.71 L650.28,82.07 L651.74,82.44 L653.2,82.8 L654.66,83.16 L656.11,83.53 L657.57,83.89 L659.03,84.26 L660.48,84.62 L661.94,84.99 L663.4,85.35 L664.86,85.71 L666.31,86.08 L667.77,86.44 L669.23,86.81 L670.69,87.17 L672.14,87.54 L673.6,87.9 L675.06,88.26 L676.51,88.63 L677.97,88.99 L679.43,89.36 L680.89,89.72 L682.34,90.09 L683.79,90.45 L685.24,90.81 L686.67,91.17 L688.06,91.51 L689.38,91.84 L690.58,92.14 L691.62,92.4 L694,93" stroke="#ff00ff" stroke-width="1.1" fill="none"/>
<path d="M424,30.6 L426.43,30.96 L427.49,31.12 L428.72,31.3 L430.06,31.5 L431.48,31.71 L432.93,31.93 L434.41,32.15 L435.89,32.37 L437.38,32.59 L438.86,32.81 L440.35,33.03 L441.83,33.26 L443.32,33.48 L444.81,33.7 L446.29,33.92 L447.78,34.14 L449.26,34.36 L450.75,34.58 L452.24,34.8 L453.72,35.03 L455.21,35.25 L456.7,35.47 L458.18,35.69 L459.67,35.91 L461.15,36.13 L462.64,36.35 L464.13,36.57 L465.61,36.8 L467.1,37.02 L468.58,37.24 L470.07,37.46 L471.56,37.68 L473.04,37.9 L474.53,38.12 L476.02,38.34 L477.5,38.57 L478.99,38.79 L480.47,39.01 L481.96,39.23 L483.45,39.45 L484.93,39.67 L486.42,39.89 L487.9,40.11 L489.39,40.34 L490.88,40.56 L492.36,40.78 L493.85,41 L495.34,41.22 L496.82,41.44 L498.31,41.66 L499.79,41.88 L501.28,42.11 L502.77,42.33 L504.25,42.55 L505.74,42.77 L507.22,42.99 L508.71,43.22 L510.2,43.45 L511.68,43.68 L513.16,43.92 L514.64,44.16 L516.13,44.42 L517.6,44.68 L519.08,44.95 L520.56,45.22 L522.04,45.49 L523.52,45.76 L524.99,46.03 L526.47,46.3 L527.95,46.58 L529.43,46.85 L530.9,47.12 L532.38,47.4 L533.86,47.67 L535.34,47.94 L536.81,48.22 L538.29,48.49 L539.77,48.76 L541.25,49.03 L542.72,49.31 L544.2,49.58 L545.68,49.85 L547.16,50.13 L548.64,50.4 L550.11,50.67 L551.59,50.95 L553.07,51.22 L554.54,51.5 L556.02,51.78 L557.49,52.07 L558.97,52.37 L560.44,52.68 L561.9,53 L563.37,53.33 L564.83,53.66 L566.3,54.01 L567.76,54.35 L569.22,54.7 L570.68,55.05 L572.14,55.4 L573.6,55.75 L575.07,56.1 L576.53,56.44 L577.99,56.79 L579.45,57.14 L580.91,57.49 L582.37,57.84 L583.83,58.19 L585.3,58.54 L586.76,58.89 L588.22,59.23 L589.68,59.58 L591.14,59.93 L592.6,60.28 L594.06,60.63 L595.53,60.98 L596.99,61.33 L598.45,61.68 L599.91,62.04 L601.37,62.4 L602.82,62.76 L604.28,63.14 L605.73,63.52 L607.18,63.91 L608.63,64.31 L610.08,64.71 L611.53,65.11 L612.97,65.51 L614.42,65.92 L615.87,66.32 L617.31,66.73 L618.76,67.13 L620.21,67.54 L621.66,67.94 L623.1,68.35 L624.55,68.75 L626,69.16 L627.44,69.56 L628.89,69.97 L630.34,70.37 L631.78,70.78 L633.23,71.18 L634.68,71.59 L636.12,71.99 L637.57,72.4 L639.02,72.81 L640.46,73.21 L641.91,73.62 L643.36,74.02 L644.81,74.43 L646.25,74.83 L647.7,75.24 L649.15,75.64 L650.59,76.05 L652.04,76.45 L653.49,76.86 L654.93,77.26 L656.38,77.67 L657.83,78.07 L659.27,78.48 L660.72,78.88 L662.17,79.29 L663.62,79.69 L665.06,80.1 L666.51,80.5 L667.96,80.91 L669.4,81.31 L670.85,81.72 L672.3,82.12 L673.74,82.53 L675.19,82.93 L676.64,83.34 L678.08,83.74 L679.53,84.15 L680.98,84.55 L682.42,84.96 L683.87,85.36 L685.3,85.76 L686.72,86.16 L688.1,86.55 L689.41,86.91 L690.6,87.25 L691.63,87.54 L694,88.2" stroke="#ff0000" stroke-width="1.1" fill="none"/>
<path d="M424,31.3 L426.43,31.66 L427.49,31.81 L428.71,31.99 L430.05,32.19 L431.47,32.4 L432.93,32.61 L434.4,32.83 L435.88,33.04 L437.36,33.26 L438.85,33.48 L440.33,33.7 L441.82,33.91 L443.3,34.13 L444.79,34.35 L446.27,34.57 L447.76,34.78 L449.24,35 L450.73,35.22 L452.21,35.44 L453.7,35.66 L455.18,35.87 L456.67,36.09 L458.15,36.31 L459.64,36.53 L461.12,36.74 L462.61,36.96 L464.09,37.18 L465.58,37.4 L467.06,37.62 L468.55,37.83 L470.03,38.05 L471.52,38.27 L473,38.49 L474.49,38.7 L475.97,38.92 L477.46,39.14 L478.94,39.36 L480.43,39.58 L481.91,39.79 L483.4,40.01 L484.88,40.23 L486.37,40.45 L487.85,40.67 L489.34,40.88 L490.82,41.1 L492.31,41.32 L493.79,41.54 L495.28,41.75 L496.76,41.97 L498.25,42.19 L499.73,42.41 L501.22,42.63 L502.7,42.84 L504.19,43.06 L505.67,43.28 L507.16,43.5 L508.64,43.73 L510.12,43.97 L511.6,44.22 L513.07,44.48 L514.55,44.77 L516.01,45.08 L517.47,45.41 L518.94,45.75 L520.39,46.11 L521.85,46.47 L523.31,46.83 L524.76,47.19 L526.22,47.55 L527.67,47.92 L529.13,48.28 L530.59,48.65 L532.04,49.01 L533.5,49.37 L534.96,49.74 L536.41,50.1 L537.87,50.47 L539.32,50.83 L540.78,51.19 L542.24,51.56 L543.69,51.92 L545.15,52.29 L546.6,52.65 L548.06,53.01 L549.52,53.38 L550.97,53.74 L552.43,54.11 L553.88,54.48 L555.34,54.85 L556.79,55.23 L558.24,55.61 L559.68,56.01 L561.12,56.43 L562.56,56.85 L564,57.29 L565.43,57.74 L566.86,58.19 L568.29,58.64 L569.72,59.09 L571.15,59.55 L572.58,60 L574.01,60.46 L575.44,60.91 L576.87,61.37 L578.31,61.82 L579.74,62.28 L581.17,62.73 L582.6,63.19 L584.03,63.64 L585.46,64.1 L586.89,64.55 L588.32,65.01 L589.75,65.46 L591.18,65.92 L592.61,66.37 L594.04,66.83 L595.47,67.28 L596.9,67.74 L598.33,68.19 L599.76,68.63 L601.2,69.07 L602.64,69.49 L604.08,69.91 L605.53,70.3 L606.98,70.68 L608.43,71.05 L609.89,71.42 L611.34,71.78 L612.8,72.13 L614.26,72.48 L615.72,72.84 L617.18,73.19 L618.64,73.55 L620.09,73.9 L621.55,74.25 L623.01,74.61 L624.47,74.96 L625.93,75.31 L627.39,75.67 L628.85,76.02 L630.31,76.37 L631.76,76.73 L633.22,77.08 L634.68,77.43 L636.14,77.79 L637.6,78.14 L639.06,78.49 L640.52,78.84 L641.97,79.2 L643.43,79.55 L644.89,79.9 L646.35,80.26 L647.81,80.61 L649.27,80.96 L650.73,81.32 L652.19,81.67 L653.64,82.02 L655.1,82.38 L656.56,82.73 L658.02,83.08 L659.48,83.44 L660.94,83.79 L662.4,84.14 L663.85,84.5 L665.31,84.85 L666.77,85.2 L668.23,85.56 L669.69,85.91 L671.15,86.26 L672.61,86.62 L674.07,86.97 L675.52,87.32 L676.98,87.68 L678.44,88.03 L679.9,88.38 L681.36,88.74 L682.81,89.09 L684.27,89.44 L685.71,89.79 L687.13,90.14 L688.5,90.47 L689.79,90.78 L690.94,91.06 L691.92,91.3 L694,91.8" stroke="#0000ff" stroke-width="1.1" fill="none"/>
<path d="M424,33.7 L426.44,34.03 L427.5,34.17 L428.72,34.34 L430.07,34.52 L431.49,34.71 L432.95,34.9 L434.43,35.1 L435.91,35.3 L437.4,35.5 L438.89,35.7 L440.38,35.9 L441.87,36.1 L443.36,36.3 L444.84,36.5 L446.33,36.7 L447.82,36.9 L449.31,37.1 L450.8,37.3 L452.29,37.5 L453.78,37.7 L455.27,37.9 L456.76,38.1 L458.24,38.3 L459.73,38.5 L461.22,38.7 L462.71,38.9 L464.2,39.1 L465.69,39.3 L467.18,39.5 L468.67,39.71 L470.16,39.91 L471.64,40.11 L473.13,40.31 L474.62,40.51 L476.11,40.71 L477.6,40.91 L479.09,41.11 L480.58,41.31 L482.07,41.51 L483.56,41.71 L485.04,41.91 L486.53,42.11 L488.02,42.31 L489.51,42.51 L491,42.71 L492.49,42.91 L493.98,43.11 L495.47,43.31 L496.96,43.51 L498.44,43.71 L499.93,43.91 L501.42,44.11 L502.91,44.31 L504.4,44.51 L505.89,44.71 L507.38,44.91 L508.86,45.12 L510.35,45.33 L511.84,45.55 L513.32,45.78 L514.8,46.02 L516.29,46.27 L517.76,46.53 L519.24,46.8 L520.72,47.07 L522.2,47.35 L523.67,47.63 L525.15,47.91 L526.62,48.19 L528.1,48.47 L529.58,48.75 L531.05,49.03 L532.53,49.3 L534,49.58 L535.48,49.86 L536.96,50.14 L538.43,50.42 L539.91,50.7 L541.38,50.98 L542.86,51.26 L544.34,51.54 L545.81,51.82 L547.29,52.1 L548.77,52.38 L550.24,52.65 L551.72,52.93 L553.19,53.22 L554.67,53.5 L556.14,53.79 L557.61,54.09 L559.08,54.39 L560.55,54.71 L562.02,55.04 L563.48,55.38 L564.94,55.72 L566.4,56.08 L567.86,56.43 L569.32,56.79 L570.78,57.15 L572.24,57.5 L573.7,57.86 L575.16,58.22 L576.62,58.58 L578.08,58.94 L579.53,59.29 L580.99,59.65 L582.45,60.01 L583.91,60.37 L585.37,60.73 L586.83,61.09 L588.29,61.44 L589.75,61.8 L591.21,62.16 L592.67,62.52 L594.12,62.88 L595.58,63.23 L597.04,63.59 L598.5,63.95 L599.96,64.32 L601.41,64.69 L602.87,65.06 L604.32,65.44 L605.77,65.83 L607.22,66.22 L608.67,66.62 L610.12,67.02 L611.56,67.43 L613.01,67.83 L614.46,68.24 L615.9,68.65 L617.35,69.05 L618.8,69.46 L620.24,69.87 L621.69,70.27 L623.13,70.68 L624.58,71.09 L626.03,71.49 L627.47,71.9 L628.92,72.31 L630.37,72.71 L631.81,73.12 L633.26,73.52 L634.7,73.93 L636.15,74.34 L637.6,74.74 L639.04,75.15 L640.49,75.56 L641.94,75.96 L643.38,76.37 L644.83,76.78 L646.27,77.18 L647.72,77.59 L649.17,78 L650.61,78.4 L652.06,78.81 L653.51,79.22 L654.95,79.62 L656.4,80.03 L657.84,80.44 L659.29,80.84 L660.74,81.25 L662.18,81.66 L663.63,82.06 L665.08,82.47 L666.52,82.88 L667.97,83.28 L669.41,83.69 L670.86,84.1 L672.31,84.5 L673.75,84.91 L675.2,85.31 L676.65,85.72 L678.09,86.13 L679.54,86.53 L680.98,86.94 L682.43,87.35 L683.87,87.75 L685.31,88.16 L686.72,88.55 L688.1,88.94 L689.41,89.31 L690.6,89.65 L691.63,89.93 L694,90.6" stroke="#008080" stroke-width="1.1" fill="none"/>
<path d="M424,206.1 L435.7,202.4 L444.4,196.9 L451.9,191.9 L458.2,186.9 L463.1,182.4 L466.9,178.7 L471.9,173.7 L478.1,167.5 L484.3,162.5 L489.3,159.5 L494,155.5 L499,151 L503.9,146.1 L508,142 L511,139" stroke="#000000" stroke-width="1.1" stroke-dasharray="3 1.5 1 1.5" fill="none"/>
<rect x="422" y="204.1" width="4" height="4" fill="#000000"/>
<rect x="433.7" y="200.4" width="4" height="4" fill="#000000"/>
<rect x="442.4" y="194.9" width="4" height="4" fill="#000000"/>
<rect x="449.9" y="189.9" width="4" height="4" fill="#000000"/>
<rect x="456.2" y="184.9" width="4" height="4" fill="#000000"/>
<rect x="461.1" y="180.4" width="4" height="4" fill="#000000"/>
<rect x="464.9" y="176.7" width="4" height="4" fill="#000000"/>
<rect x="469.9" y="171.7" width="4" height="4" fill="#000000"/>
<rect x="476.1" y="165.5" width="4" height="4" fill="#000000"/>
<rect x="482.3" y="160.5" width="4" height="4" fill="#000000"/>
<rect x="487.3" y="157.5" width="4" height="4" fill="#000000"/>
<rect x="492" y="153.5" width="4" height="4" fill="#000000"/>
<rect x="497" y="149" width="4" height="4" fill="#000000"/>
<rect x="501.9" y="144.1" width="4" height="4" fill="#000000"/>
<rect x="506" y="140" width="4" height="4" fill="#000000"/>
<rect x="509" y="137" width="4" height="4" fill="#000000"/>
<path d="M424,135.3 L440,128.8 L454.5,126.9 L464.9,124.5 L473.8,125.7 L485.9,132.9 L491.9,135.3 L499,138.9 L506.3,143.7 L511,146.5 L514,148.6" stroke="#ff0000" stroke-width="1.1" stroke-dasharray="3 1.5 1 1.5" fill="none"/>
<circle cx="424" cy="135.3" r="2.6" fill="#ff0000"/>
<circle cx="440" cy="128.8" r="2.6" fill="#ff0000"/>
<circle cx="454.5" cy="126.9" r="2.6" fill="#ff0000"/>
<circle cx="464.9" cy="124.5" r="2.6" fill="#ff0000"/>
<circle cx="473.8" cy="125.7" r="2.6" fill="#ff0000"/>
<circle cx="485.9" cy="132.9" r="2.6" fill="#ff0000"/>
<circle cx="491.9" cy="135.3" r="2.6" fill="#ff0000"/>
<circle cx="499" cy="138.9" r="2.6" fill="#ff0000"/>
<circle cx="506.3" cy="143.7" r="2.6" fill="#ff0000"/>
<circle cx="511" cy="146.5" r="2.6" fill="#ff0000"/>
<circle cx="514" cy="148.6" r="2.6" fill="#ff0000"/>
<path d="M430.4,164.2 L448.5,158.2 L459.3,153.4 L469,148.6 L476.2,146 L487,140.1 L493,139.5 L499,138.4 L504,137.5 L509,136.5 L514,135.3" stroke="#0000ff" stroke-width="1.1" stroke-dasharray="3 1.5 1 1.5" fill="none"/>
<path d="M430.4,161.4 L433.4,166.2 L427.4,166.2Z" fill="#0000ff"/>
<path d="M448.5,155.4 L451.5,160.2 L445.5,160.2Z" fill="#0000ff"/>
<path d="M459.3,150.6 L462.3,155.4 L456.3,155.4Z" fill="#0000ff"/>
<path d="M469,145.8 L472,150.6 L466,150.6Z" fill="#0000ff"/>
<path d="M476.2,143.2 L479.2,148 L473.2,148Z" fill="#0000ff"/>
<path d="M487,137.3 L490,142.1 L484,142.1Z" fill="#0000ff"/>
<path d="M493,136.7 L496,141.5 L490,141.5Z" fill="#0000ff"/>
<path d="M499,135.6 L502,140.4 L496,140.4Z" fill="#0000ff"/>
<path d="M504,134.7 L507,139.5 L501,139.5Z" fill="#0000ff"/>
<path d="M509,133.7 L512,138.5 L506,138.5Z" fill="#0000ff"/>
<path d="M514,132.5 L517,137.3 L511,137.3Z" fill="#0000ff"/>
<path d="M424,162.5 L430.4,163 L456.9,165 L466.6,160.6 L479.8,157 L491.9,152.2 L499,147.3 L504.5,143.5 L509,141 L514,138.9" stroke="#ff00ff" stroke-width="1.1" fill="none"/>
<path d="M424,160.3 L426.2,162.5 L424,164.7 L421.8,162.5Z" fill="#ff00ff"/>
<path d="M430.4,160.8 L432.6,163 L430.4,165.2 L428.2,163Z" fill="#ff00ff"/>
<path d="M456.9,162.8 L459.1,165 L456.9,167.2 L454.7,165Z" fill="#ff00ff"/>
<path d="M466.6,158.4 L468.8,160.6 L466.6,162.8 L464.4,160.6Z" fill="#ff00ff"/>
<path d="M479.8,154.8 L482,157 L479.8,159.2 L477.6,157Z" fill="#ff00ff"/>
<path d="M491.9,150 L494.1,152.2 L491.9,154.4 L489.7,152.2Z" fill="#ff00ff"/>
<path d="M499,145.1 L501.2,147.3 L499,149.5 L496.8,147.3Z" fill="#ff00ff"/>
<path d="M504.5,141.3 L506.7,143.5 L504.5,145.7 L502.3,143.5Z" fill="#ff00ff"/>
<path d="M509,138.8 L511.2,141 L509,143.2 L506.8,141Z" fill="#ff00ff"/>
<path d="M514,136.7 L516.2,138.9 L514,141.1 L511.8,138.9Z" fill="#ff00ff"/>
<path d="M424,101 L435.3,87.7 L451,82.2 L457,78 L463,76.9 L466.6,80.5 L472.6,82.9 L478.6,82.9 L479.8,89 L485.9,85.3 L491.9,91.3 L495,94 L499,98.6 L502,102 L506.3,107 L509,111 L510.5,114.5 L512,119 L513,124.2 L515.4,131.4" stroke="#008080" stroke-width="1.1" stroke-dasharray="3 1.5 1 1.5" fill="none"/>
<path d="M424,103.8 L427,99 L421,99Z" fill="#008080"/>
<path d="M435.3,90.5 L438.3,85.7 L432.3,85.7Z" fill="#008080"/>
<path d="M451,85 L454,80.2 L448,80.2Z" fill="#008080"/>
<path d="M457,80.8 L460,76 L454,76Z" fill="#008080"/>
<path d="M463,79.7 L466,74.9 L460,74.9Z" fill="#008080"/>
<path d="M466.6,83.3 L469.6,78.5 L463.6,78.5Z" fill="#008080"/>
<path d="M472.6,85.7 L475.6,80.9 L469.6,80.9Z" fill="#008080"/>
<path d="M478.6,85.7 L481.6,80.9 L475.6,80.9Z" fill="#008080"/>
<path d="M479.8,91.8 L482.8,87 L476.8,87Z" fill="#008080"/>
<path d="M485.9,88.1 L488.9,83.3 L482.9,83.3Z" fill="#008080"/>
<path d="M491.9,94.1 L494.9,89.3 L488.9,89.3Z" fill="#008080"/>
<path d="M495,96.8 L498,92 L492,92Z" fill="#008080"/>
<path d="M499,101.4 L502,96.6 L496,96.6Z" fill="#008080"/>
<path d="M502,104.8 L505,100 L499,100Z" fill="#008080"/>
<path d="M506.3,109.8 L509.3,105 L503.3,105Z" fill="#008080"/>
<path d="M509,113.8 L512,109 L506,109Z" fill="#008080"/>
<path d="M510.5,117.3 L513.5,112.5 L507.5,112.5Z" fill="#008080"/>
<path d="M512,121.8 L515,117 L509,117Z" fill="#008080"/>
<path d="M513,127 L516,122.2 L510,122.2Z" fill="#008080"/>
<path d="M515.4,134.2 L518.4,129.4 L512.4,129.4Z" fill="#008080"/>
<path d="M511,140 L513.43,139.61 L514.48,139.44 L515.71,139.27 L517.05,139.1 L518.47,138.96 L519.93,138.85 L521.41,138.79 L522.9,138.78 L524.39,138.83 L525.87,138.92 L527.35,139.08 L528.82,139.3 L530.27,139.6 L531.71,139.97 L533.13,140.41 L534.54,140.9 L535.93,141.43 L537.32,141.99 L538.71,142.58 L540.08,143.18 L541.44,143.81 L542.79,144.46 L544.13,145.13 L545.44,145.83 L546.73,146.58 L547.96,147.38 L549.14,148.25 L550.25,149.2 L551.3,150.22 L552.3,151.31 L553.25,152.45 L554.18,153.62 L555.09,154.81 L556,156.01 L556.9,157.21 L557.8,158.41 L558.7,159.61 L559.6,160.81 L560.5,162.02 L561.4,163.23 L562.29,164.44 L563.17,165.65 L564.06,166.86 L564.94,168.08 L565.82,169.3 L566.7,170.51 L567.58,171.73 L568.46,172.95 L569.35,174.17 L570.23,175.38 L571.11,176.6 L572,177.81 L572.91,179.01 L573.83,180.19 L574.77,181.36 L575.73,182.51 L576.72,183.63 L577.73,184.74 L578.75,185.84 L579.78,186.93 L580.83,188.01 L581.87,189.09 L582.91,190.17 L583.96,191.25 L585.02,192.32 L586.08,193.37 L587.16,194.39 L588.28,195.36 L589.44,196.28 L590.64,197.12 L591.9,197.88 L593.2,198.57 L594.55,199.2 L595.91,199.8 L597.3,200.37 L598.69,200.94 L600.08,201.49 L601.48,202.05 L602.88,202.6 L604.27,203.15 L605.67,203.7 L607.07,204.25 L608.47,204.8 L609.87,205.33 L611.28,205.83 L612.7,206.3 L614.13,206.72 L615.57,207.09 L617.03,207.4 L618.5,207.65 L619.98,207.86 L621.47,208.05 L622.96,208.22 L624.45,208.38 L625.95,208.54 L627.44,208.69 L628.93,208.85 L630.43,209 L631.92,209.16 L633.42,209.3 L634.91,209.44 L636.41,209.56 L637.91,209.67 L639.4,209.74 L640.9,209.77 L642.4,209.78 L643.9,209.75 L645.4,209.7 L646.9,209.64 L648.4,209.58 L649.9,209.5 L651.4,209.43 L652.9,209.37 L654.4,209.31 L655.9,209.26 L657.4,209.24 L658.9,209.25 L660.39,209.3 L661.89,209.38 L663.38,209.51 L664.87,209.66 L666.36,209.85 L667.83,210.07 L669.3,210.34 L670.76,210.65 L672.2,211.03 L673.62,211.45 L675.04,211.92 L676.45,212.41 L677.86,212.89 L679.27,213.35 L680.71,213.75 L682.15,214.1 L683.61,214.41 L685.07,214.67 L686.52,214.91 L687.94,215.13 L689.28,215.32 L690.51,215.5 L691.57,215.65 L694,216" stroke="#000000" stroke-width="5.2" fill="none" stroke-linejoin="round"/>
<path d="M486,131 L487.97,132.47 L488.82,133.12 L489.81,133.86 L490.9,134.67 L492.04,135.53 L493.22,136.42 L494.41,137.31 L495.61,138.21 L496.8,139.12 L497.99,140.03 L499.18,140.95 L500.36,141.87 L501.54,142.81 L502.71,143.75 L503.88,144.69 L505.04,145.64 L506.2,146.59 L507.36,147.54 L508.53,148.49 L509.69,149.44 L510.85,150.39 L512.01,151.35 L513.17,152.3 L514.33,153.25 L515.49,154.2 L516.65,155.15 L517.81,156.11 L518.97,157.06 L520.13,158.01 L521.3,158.96 L522.46,159.91 L523.62,160.87 L524.78,161.82 L525.94,162.77 L527.1,163.72 L528.26,164.67 L529.42,165.63 L530.58,166.58 L531.74,167.53 L532.91,168.48 L534.07,169.43 L535.23,170.39 L536.39,171.34 L537.55,172.29 L538.71,173.24 L539.87,174.19 L541.03,175.15 L542.19,176.1 L543.36,177.05 L544.52,177.99 L545.69,178.93 L546.87,179.86 L548.06,180.76 L549.28,181.63 L550.51,182.47 L551.77,183.28 L553.05,184.05 L554.35,184.8 L555.66,185.53 L556.97,186.26 L558.29,186.97 L559.61,187.69 L560.93,188.4 L562.25,189.12 L563.57,189.83 L564.89,190.54 L566.22,191.26 L567.54,191.97 L568.86,192.67 L570.19,193.37 L571.52,194.06 L572.86,194.73 L574.22,195.37 L575.58,195.98 L576.96,196.56 L578.36,197.1 L579.76,197.63 L581.17,198.14 L582.59,198.64 L584.01,199.12 L585.43,199.61 L586.85,200.08 L588.28,200.56 L589.7,201.02 L591.13,201.49 L592.56,201.96 L593.99,202.42 L595.41,202.88 L596.84,203.35 L598.27,203.81 L599.7,204.27 L601.13,204.73 L602.56,205.19 L603.99,205.64 L605.42,206.09 L606.86,206.54 L608.29,206.97 L609.73,207.4 L611.17,207.83 L612.61,208.24 L614.06,208.64 L615.51,209.03 L616.96,209.41 L618.42,209.77 L619.88,210.12 L621.34,210.47 L622.8,210.81 L624.26,211.15 L625.72,211.47 L627.19,211.79 L628.66,212.09 L630.13,212.37 L631.61,212.63 L633.09,212.86 L634.58,213.09 L636.06,213.3 L637.55,213.5 L639.04,213.69 L640.53,213.88 L642.02,214.06 L643.51,214.22 L645,214.37 L646.5,214.5 L647.99,214.61 L649.49,214.7 L650.99,214.79 L652.49,214.87 L653.99,214.95 L655.49,215.02 L656.99,215.1 L658.48,215.17 L659.98,215.25 L661.48,215.32 L662.98,215.39 L664.48,215.45 L665.98,215.51 L667.48,215.57 L668.98,215.63 L670.48,215.68 L671.98,215.73 L673.49,215.78 L674.99,215.83 L676.49,215.87 L677.99,215.91 L679.49,215.94 L680.99,215.96 L682.49,215.98 L683.98,215.99 L685.47,215.99 L686.93,216 L688.34,216 L689.66,216 L690.85,216 L691.86,216 L694,216" stroke="#ff0000" stroke-width="4.2" fill="none" stroke-linejoin="round"/>
<path d="M495,137.5 L497.42,137.1 L498.48,136.92 L499.7,136.72 L501.04,136.49 L502.45,136.26 L503.91,136.03 L505.38,135.79 L506.86,135.57 L508.34,135.36 L509.83,135.17 L511.32,135.01 L512.81,134.86 L514.31,134.74 L515.81,134.63 L517.3,134.54 L518.8,134.46 L520.3,134.4 L521.8,134.37 L523.3,134.35 L524.8,134.36 L526.29,134.41 L527.78,134.49 L529.27,134.63 L530.74,134.83 L532.21,135.09 L533.67,135.4 L535.12,135.76 L536.56,136.15 L537.99,136.58 L539.42,137.05 L540.83,137.54 L542.23,138.07 L543.63,138.62 L545.01,139.2 L546.39,139.78 L547.77,140.38 L549.15,140.98 L550.52,141.58 L551.89,142.2 L553.25,142.84 L554.6,143.49 L555.94,144.16 L557.27,144.86 L558.59,145.57 L559.9,146.3 L561.21,147.03 L562.52,147.77 L563.82,148.51 L565.12,149.27 L566.4,150.04 L567.66,150.84 L568.9,151.67 L570.12,152.54 L571.3,153.45 L572.45,154.4 L573.59,155.38 L574.71,156.37 L575.82,157.38 L576.92,158.4 L578.03,159.42 L579.13,160.44 L580.22,161.46 L581.31,162.5 L582.4,163.53 L583.47,164.58 L584.54,165.64 L585.6,166.7 L586.66,167.77 L587.71,168.84 L588.76,169.91 L589.81,170.99 L590.86,172.06 L591.91,173.13 L592.96,174.21 L594.01,175.28 L595.07,176.35 L596.13,177.4 L597.21,178.45 L598.3,179.48 L599.4,180.49 L600.53,181.49 L601.66,182.46 L602.81,183.43 L603.96,184.39 L605.12,185.35 L606.28,186.31 L607.44,187.26 L608.59,188.22 L609.74,189.19 L610.88,190.16 L612.02,191.14 L613.15,192.13 L614.27,193.13 L615.38,194.14 L616.49,195.15 L617.6,196.17 L618.7,197.18 L619.81,198.2 L620.92,199.21 L622.03,200.22 L623.16,201.21 L624.29,202.19 L625.44,203.15 L626.6,204.1 L627.78,205.03 L628.97,205.95 L630.16,206.86 L631.37,207.76 L632.57,208.64 L633.79,209.52 L635.02,210.37 L636.27,211.2 L637.54,211.99 L638.83,212.75 L640.14,213.48 L641.46,214.17 L642.8,214.84 L644.15,215.48 L645.52,216.08 L646.9,216.63 L648.3,217.12 L649.73,217.55 L651.17,217.93 L652.63,218.26 L654.09,218.55 L655.57,218.82 L657.04,219.08 L658.52,219.31 L660.01,219.52 L661.49,219.69 L662.99,219.83 L664.48,219.93 L665.98,220.01 L667.47,220.06 L668.97,220.1 L670.48,220.13 L671.98,220.15 L673.48,220.18 L674.98,220.2 L676.48,220.23 L677.98,220.25 L679.48,220.27 L680.99,220.3 L682.49,220.32 L683.98,220.34 L685.47,220.37 L686.93,220.39 L688.34,220.41 L689.66,220.43 L690.85,220.45 L691.85,220.47 L694,220.5" stroke="#0000ff" stroke-width="5" fill="none" stroke-linejoin="round"/>
<path d="M513,131 L514.47,132.08 L515.51,132.78 L516.72,133.5 L517.37,133.91 L518.83,133.69 L520.23,135.02 L522.47,136.72 L523.52,136.15 L524.49,135 L526.1,137.36 L526.89,137.02 L528.87,139.52 L528.93,142.83 L529.57,141.58 L531.38,141.53 L532.23,146.17 L533.64,146.81 L534.33,145.98 L534.93,147.14 L535.87,148.03 L537.62,149.8 L536.12,148.75 L538.11,151.65 L537.96,155.32 L539.74,156.63 L541.22,155.89 L543.09,158.05 L543.04,158.08 L542.57,162.06 L543.77,163.38 L544.38,162.8 L545.3,165.92 L545.32,164.75 L547.61,165.89 L548.37,168.25 L548.36,170.45 L549.38,170.91 L550.69,171.07 L551.92,172.12 L554.63,173.77 L555.3,175.19 L555.72,177.28 L556.21,177.43 L557.65,176.89 L557.98,176.51 L560.65,177.82 L560.99,180.49 L562.32,180.29 L562.31,181.88 L562.69,182.6 L564.92,186.86 L563.32,188.25 L564.91,189.45 L568.38,190.01 L569.56,190.71 L569.65,189.9 L570.29,191.73 L571.85,193.47 L572.75,194.7 L573.57,195.64 L574.55,197.06 L576.36,195.85 L576.81,199.16 L577.18,198.81 L579.9,199.35 L579.91,201.26 L582.25,200.31 L583.58,201.76 L585.09,203.95 L585.73,204.06 L587.1,204.63 L588.51,205.13 L589.94,205.6 L591.36,206.07 L592.79,206.53 L594.22,207 L595.65,207.46 L597.08,207.92 L598.5,208.39 L599.93,208.85 L601.36,209.31 L602.79,209.77 L604.23,210.21 L605.67,210.63 L607.12,211.02 L608.57,211.39 L610.03,211.75 L611.48,212.11 L612.95,212.43 L614.41,212.69 L615.89,212.85 L617.38,212.91 L618.88,212.91 L620.38,212.89 L621.88,212.86 L623.39,212.83 L624.89,212.8 L626.39,212.77 L627.89,212.74 L629.39,212.71 L630.89,212.68 L632.39,212.65 L633.89,212.62 L635.39,212.59 L636.9,212.56 L638.4,212.52 L639.9,212.47 L641.4,212.4 L642.9,212.33 L644.4,212.24 L645.89,212.15 L647.39,212.07 L648.89,211.98 L650.39,211.89 L651.89,211.8 L653.39,211.72 L654.89,211.65 L656.39,211.62 L657.88,211.64 L659.38,211.7 L660.88,211.8 L662.38,211.91 L663.87,212.03 L665.37,212.15 L666.86,212.28 L668.35,212.45 L669.82,212.7 L671.26,213.05 L672.69,213.49 L674.11,213.98 L675.51,214.51 L676.9,215.07 L678.27,215.66 L679.62,216.2 L680.95,216.58 L682.26,216.61 L683.54,216.26 L684.78,215.58 L685.94,214.71 L687.03,213.71 L688.06,212.62 L689.03,211.49 L689.95,210.31 L690.81,209.09 L691.62,207.84 L692.38,206.63 L693.04,205.55 L694,204" stroke="#008080" stroke-width="4.6" fill="none" stroke-linejoin="round"/>
<path d="M500,145 L502.11,143.74 L503.02,143.19 L504.08,142.55 L505.25,141.85 L506.48,141.11 L507.74,140.36 L509.01,139.59 L510.3,138.82 L511.58,138.05 L512.87,137.28 L514.16,136.5 L515.45,135.73 L516.73,134.96 L518.02,134.19 L519.31,133.42 L520.6,132.64 L521.88,131.87 L523.17,131.1 L524.46,130.33 L525.74,129.55 L527.03,128.78 L528.32,128.01 L529.61,127.24 L530.89,126.47 L532.18,125.7 L533.47,124.93 L534.77,124.18 L536.07,123.45 L537.39,122.75 L538.72,122.09 L540.08,121.5 L541.47,120.97 L542.88,120.5 L544.31,120.08 L545.75,119.7 L547.21,119.35 L548.66,119.02 L550.13,118.72 L551.59,118.46 L553.06,118.26 L554.53,118.15 L556,118.11 L557.47,118.16 L558.95,118.29 L560.42,118.47 L561.9,118.69 L563.37,118.94 L564.84,119.22 L566.28,119.55 L567.71,119.94 L569.1,120.41 L570.45,120.96 L571.77,121.61 L573.05,122.34 L574.3,123.13 L575.52,123.97 L576.71,124.86 L577.85,125.8 L578.95,126.79 L579.99,127.84 L580.97,128.95 L581.89,130.1 L582.78,131.3 L583.64,132.52 L584.49,133.75 L585.32,135 L586.15,136.25 L586.98,137.5 L587.79,138.76 L588.59,140.03 L589.37,141.31 L590.12,142.61 L590.85,143.92 L591.56,145.24 L592.26,146.57 L592.94,147.9 L593.62,149.24 L594.29,150.58 L594.96,151.92 L595.63,153.27 L596.31,154.61 L596.98,155.95 L597.65,157.29 L598.33,158.63 L599,159.97 L599.68,161.31 L600.37,162.65 L601.06,163.98 L601.75,165.31 L602.45,166.64 L603.14,167.97 L603.84,169.3 L604.54,170.63 L605.24,171.96 L605.94,173.29 L606.64,174.61 L607.34,175.94 L608.03,177.27 L608.73,178.6 L609.42,179.94 L610.1,181.27 L610.78,182.61 L611.46,183.95 L612.14,185.29 L612.81,186.63 L613.48,187.97 L614.16,189.31 L614.83,190.66 L615.5,192 L616.17,193.34 L616.84,194.68 L617.51,196.03 L618.19,197.37 L618.86,198.71 L619.54,200.05 L620.21,201.39 L620.9,202.73 L621.58,204.06 L622.27,205.39 L622.97,206.72 L623.66,208.05 L624.36,209.38 L625.06,210.71 L625.76,212.04 L626.46,213.37 L627.16,214.7 L627.85,216.03 L628.55,217.36 L629.25,218.68 L629.95,220 L630.66,221.31 L631.38,222.58 L632.14,223.79 L632.97,224.88 L633.89,225.83 L634.92,226.6 L636.07,227.16 L637.34,227.54 L638.69,227.77 L640.12,227.9 L641.58,227.96 L643.07,227.99 L644.56,228 L646.06,228 L647.56,228 L649.06,228 L650.56,228 L652.06,227.99 L653.55,227.98 L655.04,227.94 L656.5,227.87 L657.91,227.71 L659.27,227.44 L660.54,227.02 L661.71,226.41 L662.77,225.61 L663.71,224.64 L664.56,223.53 L665.32,222.31 L666.01,221.02 L666.63,219.68 L667.21,218.31 L667.75,216.92 L668.27,215.51 L668.78,214.1 L669.29,212.69 L669.79,211.28 L670.3,209.86 L670.81,208.45 L671.34,207.05 L671.88,205.65 L672.43,204.26 L673.01,202.87 L673.59,201.49 L674.19,200.11 L674.79,198.74 L675.4,197.36 L676,195.99 L676.61,194.62 L677.22,193.25 L677.83,191.87 L678.43,190.5 L679.03,189.12 L679.62,187.74 L680.2,186.36 L680.78,184.97 L681.35,183.59 L681.91,182.2 L682.48,180.8 L683.03,179.41 L683.59,178.02 L684.15,176.62 L684.71,175.23 L685.27,173.84 L685.82,172.44 L686.38,171.05 L686.94,169.65 L687.5,168.26 L688.05,166.87 L688.61,165.47 L689.17,164.08 L689.73,162.69 L690.28,161.3 L690.83,159.92 L691.37,158.56 L691.9,157.25 L692.39,156.02 L692.83,154.92 L693.2,153.99 L694,152" stroke="#ff00ff" stroke-width="3.4" fill="none" stroke-linejoin="round"/>
</g>
<g stroke="#111" stroke-width="1" fill="none">
<rect x="52.3" y="6.3" width="268.4" height="213.4"/>
<line x1="48.3" y1="219.7" x2="52.3" y2="219.7"/>
<line x1="50.3" y1="212.56" x2="52.3" y2="212.56"/>
<line x1="50.3" y1="208.39" x2="52.3" y2="208.39"/>
<line x1="50.3" y1="205.42" x2="52.3" y2="205.42"/>
<line x1="50.3" y1="203.13" x2="52.3" y2="203.13"/>
<line x1="50.3" y1="201.25" x2="52.3" y2="201.25"/>
<line x1="50.3" y1="199.66" x2="52.3" y2="199.66"/>
<line x1="50.3" y1="198.29" x2="52.3" y2="198.29"/>
<line x1="50.3" y1="197.07" x2="52.3" y2="197.07"/>
<line x1="48.3" y1="195.99" x2="52.3" y2="195.99"/>
<line x1="50.3" y1="188.85" x2="52.3" y2="188.85"/>
<line x1="50.3" y1="184.68" x2="52.3" y2="184.68"/>
<line x1="50.3" y1="181.71" x2="52.3" y2="181.71"/>
<line x1="50.3" y1="179.42" x2="52.3" y2="179.42"/>
<line x1="50.3" y1="177.54" x2="52.3" y2="177.54"/>
<line x1="50.3" y1="175.95" x2="52.3" y2="175.95"/>
<line x1="50.3" y1="174.58" x2="52.3" y2="174.58"/>
<line x1="50.3" y1="173.36" x2="52.3" y2="173.36"/>
<line x1="48.3" y1="172.28" x2="52.3" y2="172.28"/>
<line x1="50.3" y1="165.14" x2="52.3" y2="165.14"/>
<line x1="50.3" y1="160.96" x2="52.3" y2="160.96"/>
<line x1="50.3" y1="158" x2="52.3" y2="158"/>
<line x1="50.3" y1="155.7" x2="52.3" y2="155.7"/>
<line x1="50.3" y1="153.83" x2="52.3" y2="153.83"/>
<line x1="50.3" y1="152.24" x2="52.3" y2="152.24"/>
<line x1="50.3" y1="150.86" x2="52.3" y2="150.86"/>
<line x1="50.3" y1="149.65" x2="52.3" y2="149.65"/>
<line x1="48.3" y1="148.57" x2="52.3" y2="148.57"/>
<line x1="50.3" y1="141.43" x2="52.3" y2="141.43"/>
<line x1="50.3" y1="137.25" x2="52.3" y2="137.25"/>
<line x1="50.3" y1="134.29" x2="52.3" y2="134.29"/>
<line x1="50.3" y1="131.99" x2="52.3" y2="131.99"/>
<line x1="50.3" y1="130.12" x2="52.3" y2="130.12"/>
<line x1="50.3" y1="128.53" x2="52.3" y2="128.53"/>
<line x1="50.3" y1="127.15" x2="52.3" y2="127.15"/>
<line x1="50.3" y1="125.94" x2="52.3" y2="125.94"/>
<line x1="48.3" y1="124.86" x2="52.3" y2="124.86"/>
<line x1="50.3" y1="117.72" x2="52.3" y2="117.72"/>
<line x1="50.3" y1="113.54" x2="52.3" y2="113.54"/>
<line x1="50.3" y1="110.58" x2="52.3" y2="110.58"/>
<line x1="50.3" y1="108.28" x2="52.3" y2="108.28"/>
<line x1="50.3" y1="106.4" x2="52.3" y2="106.4"/>
<line x1="50.3" y1="104.82" x2="52.3" y2="104.82"/>
<line x1="50.3" y1="103.44" x2="52.3" y2="103.44"/>
<line x1="50.3" y1="102.23" x2="52.3" y2="102.23"/>
<line x1="48.3" y1="101.14" x2="52.3" y2="101.14"/>
<line x1="50.3" y1="94.01" x2="52.3" y2="94.01"/>
<line x1="50.3" y1="89.83" x2="52.3" y2="89.83"/>
<line x1="50.3" y1="86.87" x2="52.3" y2="86.87"/>
<line x1="50.3" y1="84.57" x2="52.3" y2="84.57"/>
<line x1="50.3" y1="82.69" x2="52.3" y2="82.69"/>
<line x1="50.3" y1="81.11" x2="52.3" y2="81.11"/>
<line x1="50.3" y1="79.73" x2="52.3" y2="79.73"/>
<line x1="50.3" y1="78.52" x2="52.3" y2="78.52"/>
<line x1="48.3" y1="77.43" x2="52.3" y2="77.43"/>
<line x1="50.3" y1="70.3" x2="52.3" y2="70.3"/>
<line x1="50.3" y1="66.12" x2="52.3" y2="66.12"/>
<line x1="50.3" y1="63.16" x2="52.3" y2="63.16"/>
<line x1="50.3" y1="60.86" x2="52.3" y2="60.86"/>
<line x1="50.3" y1="58.98" x2="52.3" y2="58.98"/>
<line x1="50.3" y1="57.4" x2="52.3" y2="57.4"/>
<line x1="50.3" y1="56.02" x2="52.3" y2="56.02"/>
<line x1="50.3" y1="54.81" x2="52.3" y2="54.81"/>
<line x1="48.3" y1="53.72" x2="52.3" y2="53.72"/>
<line x1="50.3" y1="46.58" x2="52.3" y2="46.58"/>
<line x1="50.3" y1="42.41" x2="52.3" y2="42.41"/>
<line x1="50.3" y1="39.45" x2="52.3" y2="39.45"/>
<line x1="50.3" y1="37.15" x2="52.3" y2="37.15"/>
<line x1="50.3" y1="35.27" x2="52.3" y2="35.27"/>
<line x1="50.3" y1="33.68" x2="52.3" y2="33.68"/>
<line x1="50.3" y1="32.31" x2="52.3" y2="32.31"/>
<line x1="50.3" y1="31.1" x2="52.3" y2="31.1"/>
<line x1="48.3" y1="30.01" x2="52.3" y2="30.01"/>
<line x1="50.3" y1="22.87" x2="52.3" y2="22.87"/>
<line x1="50.3" y1="18.7" x2="52.3" y2="18.7"/>
<line x1="50.3" y1="15.74" x2="52.3" y2="15.74"/>
<line x1="50.3" y1="13.44" x2="52.3" y2="13.44"/>
<line x1="50.3" y1="11.56" x2="52.3" y2="11.56"/>
<line x1="50.3" y1="9.97" x2="52.3" y2="9.97"/>
<line x1="50.3" y1="8.6" x2="52.3" y2="8.6"/>
<line x1="50.3" y1="7.38" x2="52.3" y2="7.38"/>
<line x1="48.3" y1="6.3" x2="52.3" y2="6.3"/>
<line x1="52.3" y1="219.7" x2="52.3" y2="221.7"/>
<line x1="58.74" y1="219.7" x2="58.74" y2="221.7"/>
<line x1="64.18" y1="219.7" x2="64.18" y2="221.7"/>
<line x1="68.9" y1="219.7" x2="68.9" y2="221.7"/>
<line x1="73.06" y1="219.7" x2="73.06" y2="221.7"/>
<line x1="76.78" y1="219.7" x2="76.78" y2="223.7"/>
<line x1="101.25" y1="219.7" x2="101.25" y2="221.7"/>
<line x1="115.57" y1="219.7" x2="115.57" y2="221.7"/>
<line x1="125.73" y1="219.7" x2="125.73" y2="221.7"/>
<line x1="133.61" y1="219.7" x2="133.61" y2="221.7"/>
<line x1="140.05" y1="219.7" x2="140.05" y2="221.7"/>
<line x1="145.49" y1="219.7" x2="145.49" y2="221.7"/>
<line x1="150.2" y1="219.7" x2="150.2" y2="221.7"/>
<line x1="154.36" y1="219.7" x2="154.36" y2="221.7"/>
<line x1="158.08" y1="219.7" x2="158.08" y2="223.7"/>
<line x1="182.56" y1="219.7" x2="182.56" y2="221.7"/>
<line x1="196.88" y1="219.7" x2="196.88" y2="221.7"/>
<line x1="207.04" y1="219.7" x2="207.04" y2="221.7"/>
<line x1="214.92" y1="219.7" x2="214.92" y2="221.7"/>
<line x1="221.35" y1="219.7" x2="221.35" y2="221.7"/>
<line x1="226.8" y1="219.7" x2="226.8" y2="221.7"/>
<line x1="231.51" y1="219.7" x2="231.51" y2="221.7"/>
<line x1="235.67" y1="219.7" x2="235.67" y2="221.7"/>
<line x1="239.39" y1="219.7" x2="239.39" y2="223.7"/>
<line x1="263.87" y1="219.7" x2="263.87" y2="221.7"/>
<line x1="278.19" y1="219.7" x2="278.19" y2="221.7"/>
<line x1="288.34" y1="219.7" x2="288.34" y2="221.7"/>
<line x1="296.22" y1="219.7" x2="296.22" y2="221.7"/>
<line x1="302.66" y1="219.7" x2="302.66" y2="221.7"/>
<line x1="308.11" y1="219.7" x2="308.11" y2="221.7"/>
<line x1="312.82" y1="219.7" x2="312.82" y2="221.7"/>
<line x1="316.98" y1="219.7" x2="316.98" y2="221.7"/>
<line x1="320.7" y1="219.7" x2="320.7" y2="223.7"/>
<line x1="316.7" y1="219.7" x2="320.7" y2="219.7"/>
<line x1="318.7" y1="198.36" x2="320.7" y2="198.36"/>
<line x1="316.7" y1="177.02" x2="320.7" y2="177.02"/>
<line x1="318.7" y1="155.68" x2="320.7" y2="155.68"/>
<line x1="316.7" y1="134.34" x2="320.7" y2="134.34"/>
<line x1="318.7" y1="113" x2="320.7" y2="113"/>
<line x1="316.7" y1="91.66" x2="320.7" y2="91.66"/>
<line x1="318.7" y1="70.32" x2="320.7" y2="70.32"/>
<line x1="316.7" y1="48.98" x2="320.7" y2="48.98"/>
<line x1="318.7" y1="27.64" x2="320.7" y2="27.64"/>
<line x1="316.7" y1="6.3" x2="320.7" y2="6.3"/>
</g>
<g font-family="Liberation Sans" font-size="10.5" fill="#111">
<text x="46" y="224" text-anchor="end">10<tspan font-size="7.5" dy="-4.6" dx="0.4">-12</tspan></text>
<text x="46" y="200.29" text-anchor="end">10<tspan font-size="7.5" dy="-4.6" dx="0.4">-11</tspan></text>
<text x="46" y="176.58" text-anchor="end">10<tspan font-size="7.5" dy="-4.6" dx="0.4">-10</tspan></text>
<text x="46" y="152.87" text-anchor="end">10<tspan font-size="7.5" dy="-4.6" dx="0.4">-9</tspan></text>
<text x="46" y="129.16" text-anchor="end">10<tspan font-size="7.5" dy="-4.6" dx="0.4">-8</tspan></text>
<text x="46" y="105.44" text-anchor="end">10<tspan font-size="7.5" dy="-4.6" dx="0.4">-7</tspan></text>
<text x="46" y="81.73" text-anchor="end">10<tspan font-size="7.5" dy="-4.6" dx="0.4">-6</tspan></text>
<text x="46" y="58.02" text-anchor="end">10<tspan font-size="7.5" dy="-4.6" dx="0.4">-5</tspan></text>
<text x="46" y="34.31" text-anchor="end">10<tspan font-size="7.5" dy="-4.6" dx="0.4">-4</tspan></text>
<text x="46" y="10.6" text-anchor="end">10<tspan font-size="7.5" dy="-4.6" dx="0.4">-3</tspan></text>
<text x="80.28" y="237.2" text-anchor="end">10</text><text x="80.48" y="231.8" font-size="7.5">1</text>
<text x="161.58" y="237.2" text-anchor="end">10</text><text x="161.78" y="231.8" font-size="7.5">2</text>
<text x="242.89" y="237.2" text-anchor="end">10</text><text x="243.09" y="231.8" font-size="7.5">3</text>
<text x="324.2" y="237.2" text-anchor="end">10</text><text x="324.4" y="231.8" font-size="7.5">4</text>
<text x="326.2" y="223.6" font-size="11">0</text>
<text x="326.2" y="180.92" font-size="11">20</text>
<text x="326.2" y="138.24" font-size="11">40</text>
<text x="326.2" y="95.56" font-size="11">60</text>
<text x="326.2" y="52.88" font-size="11">80</text>
<text x="326.2" y="10.2" font-size="11">100</text>
</g>
<g stroke="#111" stroke-width="1" fill="none">
<rect x="423.8" y="6.3" width="268.6" height="213.4"/>
<line x1="419.8" y1="219.7" x2="423.8" y2="219.7"/>
<line x1="421.8" y1="212.56" x2="423.8" y2="212.56"/>
<line x1="421.8" y1="208.39" x2="423.8" y2="208.39"/>
<line x1="421.8" y1="205.42" x2="423.8" y2="205.42"/>
<line x1="421.8" y1="203.13" x2="423.8" y2="203.13"/>
<line x1="421.8" y1="201.25" x2="423.8" y2="201.25"/>
<line x1="421.8" y1="199.66" x2="423.8" y2="199.66"/>
<line x1="421.8" y1="198.29" x2="423.8" y2="198.29"/>
<line x1="421.8" y1="197.07" x2="423.8" y2="197.07"/>
<line x1="419.8" y1="195.99" x2="423.8" y2="195.99"/>
<line x1="421.8" y1="188.85" x2="423.8" y2="188.85"/>
<line x1="421.8" y1="184.68" x2="423.8" y2="184.68"/>
<line x1="421.8" y1="181.71" x2="423.8" y2="181.71"/>
<line x1="421.8" y1="179.42" x2="423.8" y2="179.42"/>
<line x1="421.8" y1="177.54" x2="423.8" y2="177.54"/>
<line x1="421.8" y1="175.95" x2="423.8" y2="175.95"/>
<line x1="421.8" y1="174.58" x2="423.8" y2="174.58"/>
<line x1="421.8" y1="173.36" x2="423.8" y2="173.36"/>
<line x1="419.8" y1="172.28" x2="423.8" y2="172.28"/>
<line x1="421.8" y1="165.14" x2="423.8" y2="165.14"/>
<line x1="421.8" y1="160.96" x2="423.8" y2="160.96"/>
<line x1="421.8" y1="158" x2="423.8" y2="158"/>
<line x1="421.8" y1="155.7" x2="423.8" y2="155.7"/>
<line x1="421.8" y1="153.83" x2="423.8" y2="153.83"/>
<line x1="421.8" y1="152.24" x2="423.8" y2="152.24"/>
<line x1="421.8" y1="150.86" x2="423.8" y2="150.86"/>
<line x1="421.8" y1="149.65" x2="423.8" y2="149.65"/>
<line x1="419.8" y1="148.57" x2="423.8" y2="148.57"/>
<line x1="421.8" y1="141.43" x2="423.8" y2="141.43"/>
<line x1="421.8" y1="137.25" x2="423.8" y2="137.25"/>
<line x1="421.8" y1="134.29" x2="423.8" y2="134.29"/>
<line x1="421.8" y1="131.99" x2="423.8" y2="131.99"/>
<line x1="421.8" y1="130.12" x2="423.8" y2="130.12"/>
<line x1="421.8" y1="128.53" x2="423.8" y2="128.53"/>
<line x1="421.8" y1="127.15" x2="423.8" y2="127.15"/>
<line x1="421.8" y1="125.94" x2="423.8" y2="125.94"/>
<line x1="419.8" y1="124.86" x2="423.8" y2="124.86"/>
<line x1="421.8" y1="117.72" x2="423.8" y2="117.72"/>
<line x1="421.8" y1="113.54" x2="423.8" y2="113.54"/>
<line x1="421.8" y1="110.58" x2="423.8" y2="110.58"/>
<line x1="421.8" y1="108.28" x2="423.8" y2="108.28"/>
<line x1="421.8" y1="106.4" x2="423.8" y2="106.4"/>
<line x1="421.8" y1="104.82" x2="423.8" y2="104.82"/>
<line x1="421.8" y1="103.44" x2="423.8" y2="103.44"/>
<line x1="421.8" y1="102.23" x2="423.8" y2="102.23"/>
<line x1="419.8" y1="101.14" x2="423.8" y2="101.14"/>
<line x1="421.8" y1="94.01" x2="423.8" y2="94.01"/>
<line x1="421.8" y1="89.83" x2="423.8" y2="89.83"/>
<line x1="421.8" y1="86.87" x2="423.8" y2="86.87"/>
<line x1="421.8" y1="84.57" x2="423.8" y2="84.57"/>
<line x1="421.8" y1="82.69" x2="423.8" y2="82.69"/>
<line x1="421.8" y1="81.11" x2="423.8" y2="81.11"/>
<line x1="421.8" y1="79.73" x2="423.8" y2="79.73"/>
<line x1="421.8" y1="78.52" x2="423.8" y2="78.52"/>
<line x1="419.8" y1="77.43" x2="423.8" y2="77.43"/>
<line x1="421.8" y1="70.3" x2="423.8" y2="70.3"/>
<line x1="421.8" y1="66.12" x2="423.8" y2="66.12"/>
<line x1="421.8" y1="63.16" x2="423.8" y2="63.16"/>
<line x1="421.8" y1="60.86" x2="423.8" y2="60.86"/>
<line x1="421.8" y1="58.98" x2="423.8" y2="58.98"/>
<line x1="421.8" y1="57.4" x2="423.8" y2="57.4"/>
<line x1="421.8" y1="56.02" x2="423.8" y2="56.02"/>
<line x1="421.8" y1="54.81" x2="423.8" y2="54.81"/>
<line x1="419.8" y1="53.72" x2="423.8" y2="53.72"/>
<line x1="421.8" y1="46.58" x2="423.8" y2="46.58"/>
<line x1="421.8" y1="42.41" x2="423.8" y2="42.41"/>
<line x1="421.8" y1="39.45" x2="423.8" y2="39.45"/>
<line x1="421.8" y1="37.15" x2="423.8" y2="37.15"/>
<line x1="421.8" y1="35.27" x2="423.8" y2="35.27"/>
<line x1="421.8" y1="33.68" x2="423.8" y2="33.68"/>
<line x1="421.8" y1="32.31" x2="423.8" y2="32.31"/>
<line x1="421.8" y1="31.1" x2="423.8" y2="31.1"/>
<line x1="419.8" y1="30.01" x2="423.8" y2="30.01"/>
<line x1="421.8" y1="22.87" x2="423.8" y2="22.87"/>
<line x1="421.8" y1="18.7" x2="423.8" y2="18.7"/>
<line x1="421.8" y1="15.74" x2="423.8" y2="15.74"/>
<line x1="421.8" y1="13.44" x2="423.8" y2="13.44"/>
<line x1="421.8" y1="11.56" x2="423.8" y2="11.56"/>
<line x1="421.8" y1="9.97" x2="423.8" y2="9.97"/>
<line x1="421.8" y1="8.6" x2="423.8" y2="8.6"/>
<line x1="421.8" y1="7.38" x2="423.8" y2="7.38"/>
<line x1="419.8" y1="6.3" x2="423.8" y2="6.3"/>
<line x1="423.8" y1="219.7" x2="423.8" y2="221.7"/>
<line x1="430.24" y1="219.7" x2="430.24" y2="221.7"/>
<line x1="435.69" y1="219.7" x2="435.69" y2="221.7"/>
<line x1="440.41" y1="219.7" x2="440.41" y2="221.7"/>
<line x1="444.57" y1="219.7" x2="444.57" y2="221.7"/>
<line x1="448.29" y1="219.7" x2="448.29" y2="223.7"/>
<line x1="472.79" y1="219.7" x2="472.79" y2="221.7"/>
<line x1="487.12" y1="219.7" x2="487.12" y2="221.7"/>
<line x1="497.28" y1="219.7" x2="497.28" y2="221.7"/>
<line x1="505.17" y1="219.7" x2="505.17" y2="221.7"/>
<line x1="511.61" y1="219.7" x2="511.61" y2="221.7"/>
<line x1="517.06" y1="219.7" x2="517.06" y2="221.7"/>
<line x1="521.78" y1="219.7" x2="521.78" y2="221.7"/>
<line x1="525.94" y1="219.7" x2="525.94" y2="221.7"/>
<line x1="529.66" y1="219.7" x2="529.66" y2="223.7"/>
<line x1="554.16" y1="219.7" x2="554.16" y2="221.7"/>
<line x1="568.49" y1="219.7" x2="568.49" y2="221.7"/>
<line x1="578.65" y1="219.7" x2="578.65" y2="221.7"/>
<line x1="586.54" y1="219.7" x2="586.54" y2="221.7"/>
<line x1="592.98" y1="219.7" x2="592.98" y2="221.7"/>
<line x1="598.43" y1="219.7" x2="598.43" y2="221.7"/>
<line x1="603.15" y1="219.7" x2="603.15" y2="221.7"/>
<line x1="607.31" y1="219.7" x2="607.31" y2="221.7"/>
<line x1="611.03" y1="219.7" x2="611.03" y2="223.7"/>
<line x1="635.53" y1="219.7" x2="635.53" y2="221.7"/>
<line x1="649.85" y1="219.7" x2="649.85" y2="221.7"/>
<line x1="660.02" y1="219.7" x2="660.02" y2="221.7"/>
<line x1="667.91" y1="219.7" x2="667.91" y2="221.7"/>
<line x1="674.35" y1="219.7" x2="674.35" y2="221.7"/>
<line x1="679.8" y1="219.7" x2="679.8" y2="221.7"/>
<line x1="684.51" y1="219.7" x2="684.51" y2="221.7"/>
<line x1="688.68" y1="219.7" x2="688.68" y2="221.7"/>
<line x1="692.4" y1="219.7" x2="692.4" y2="223.7"/>
<line x1="688.4" y1="219.7" x2="692.4" y2="219.7"/>
<line x1="690.4" y1="198.36" x2="692.4" y2="198.36"/>
<line x1="688.4" y1="177.02" x2="692.4" y2="177.02"/>
<line x1="690.4" y1="155.68" x2="692.4" y2="155.68"/>
<line x1="688.4" y1="134.34" x2="692.4" y2="134.34"/>
<line x1="690.4" y1="113" x2="692.4" y2="113"/>
<line x1="688.4" y1="91.66" x2="692.4" y2="91.66"/>
<line x1="690.4" y1="70.32" x2="692.4" y2="70.32"/>
<line x1="688.4" y1="48.98" x2="692.4" y2="48.98"/>
<line x1="690.4" y1="27.64" x2="692.4" y2="27.64"/>
<line x1="688.4" y1="6.3" x2="692.4" y2="6.3"/>
</g>
<g font-family="Liberation Sans" font-size="10.5" fill="#111">
<text x="417.5" y="224" text-anchor="end">10<tspan font-size="7.5" dy="-4.6" dx="0.4">-12</tspan></text>
<text x="417.5" y="200.29" text-anchor="end">10<tspan font-size="7.5" dy="-4.6" dx="0.4">-11</tspan></text>
<text x="417.5" y="176.58" text-anchor="end">10<tspan font-size="7.5" dy="-4.6" dx="0.4">-10</tspan></text>
<text x="417.5" y="152.87" text-anchor="end">10<tspan font-size="7.5" dy="-4.6" dx="0.4">-9</tspan></text>
<text x="417.5" y="129.16" text-anchor="end">10<tspan font-size="7.5" dy="-4.6" dx="0.4">-8</tspan></text>
<text x="417.5" y="105.44" text-anchor="end">10<tspan font-size="7.5" dy="-4.6" dx="0.4">-7</tspan></text>
<text x="417.5" y="81.73" text-anchor="end">10<tspan font-size="7.5" dy="-4.6" dx="0.4">-6</tspan></text>
<text x="417.5" y="58.02" text-anchor="end">10<tspan font-size="7.5" dy="-4.6" dx="0.4">-5</tspan></text>
<text x="417.5" y="34.31" text-anchor="end">10<tspan font-size="7.5" dy="-4.6" dx="0.4">-4</tspan></text>
<text x="417.5" y="10.6" text-anchor="end">10<tspan font-size="7.5" dy="-4.6" dx="0.4">-3</tspan></text>
<text x="451.79" y="237.2" text-anchor="end">10</text><text x="451.99" y="231.8" font-size="7.5">1</text>
<text x="533.16" y="237.2" text-anchor="end">10</text><text x="533.36" y="231.8" font-size="7.5">2</text>
<text x="614.53" y="237.2" text-anchor="end">10</text><text x="614.73" y="231.8" font-size="7.5">3</text>
<text x="695.9" y="237.2" text-anchor="end">10</text><text x="696.1" y="231.8" font-size="7.5">4</text>
<text x="697.9" y="223.6" font-size="11">0</text>
<text x="697.9" y="180.92" font-size="11">20</text>
<text x="697.9" y="138.24" font-size="11">40</text>
<text x="697.9" y="95.56" font-size="11">60</text>
<text x="697.9" y="52.88" font-size="11">80</text>
<text x="697.9" y="10.2" font-size="11">100</text>
</g>
<line x1="263.5" y1="11.2" x2="288" y2="11.2" stroke="#000000" stroke-width="1.15"/>
<text x="290" y="14.8" font-family="Liberation Sans" font-size="11" fill="#111">pH 2</text>
<line x1="263.5" y1="23.9" x2="288" y2="23.9" stroke="#ff0000" stroke-width="1.15"/>
<text x="290" y="27.5" font-family="Liberation Sans" font-size="11" fill="#111">pH 4</text>
<line x1="263.5" y1="36.5" x2="288" y2="36.5" stroke="#0000ff" stroke-width="1.15"/>
<text x="290" y="40.1" font-family="Liberation Sans" font-size="11" fill="#111">pH 6</text>
<line x1="263.5" y1="49.8" x2="288" y2="49.8" stroke="#008080" stroke-width="1.15"/>
<text x="290" y="53.4" font-family="Liberation Sans" font-size="11" fill="#111">pH 8</text>
<line x1="263.5" y1="62.4" x2="288" y2="62.4" stroke="#ff00ff" stroke-width="1.15"/>
<text x="290" y="66" font-family="Liberation Sans" font-size="11" fill="#111">pH 10</text>
<line x1="634.6" y1="11.8" x2="657.4" y2="11.8" stroke="#000000" stroke-width="1.15"/>
<text x="659.5" y="15.4" font-family="Liberation Sans" font-size="11" fill="#111">pH 2</text>
<line x1="634.6" y1="24.7" x2="657.4" y2="24.7" stroke="#ff0000" stroke-width="1.15"/>
<text x="659.5" y="28.3" font-family="Liberation Sans" font-size="11" fill="#111">pH 4</text>
<line x1="634.6" y1="37.4" x2="657.4" y2="37.4" stroke="#0000ff" stroke-width="1.15"/>
<text x="659.5" y="41" font-family="Liberation Sans" font-size="11" fill="#111">pH 6</text>
<line x1="634.6" y1="50.6" x2="657.4" y2="50.6" stroke="#008080" stroke-width="1.15"/>
<text x="659.5" y="54.2" font-family="Liberation Sans" font-size="11" fill="#111">pH 8</text>
<line x1="634.6" y1="63.3" x2="657.4" y2="63.3" stroke="#ff00ff" stroke-width="1.15"/>
<text x="659.5" y="66.9" font-family="Liberation Sans" font-size="11" fill="#111">pH 10</text>
<text x="64.5" y="22.5" font-size="12" font-family="Liberation Sans" fill="#111">a)</text>
<text x="427.5" y="22" font-size="12" font-family="Liberation Sans" fill="#111">b)</text>
<text x="193.5" y="49" font-size="10" font-family="Liberation Sans" fill="#111">i</text><text x="196" y="51.5" font-size="8" font-family="Liberation Sans" fill="#111">EC</text>
<text x="574.5" y="48.2" font-size="10" font-family="Liberation Sans" fill="#111">i</text><text x="577.3" y="51.8" font-size="8" font-family="Liberation Sans" fill="#111">EC</text>
<text x="73.5" y="66" font-size="10" font-family="Liberation Sans" fill="#111">i</text><text x="76" y="68.5" font-size="8" font-family="Liberation Sans" fill="#111">ox</text>
<text x="542.8" y="88.2" font-size="10" font-family="Liberation Sans" fill="#111">i</text><text x="545.5" y="91.8" font-size="8" font-family="Liberation Sans" fill="#111">ox</text>
<text x="156.5" y="103.5" font-size="10" font-family="Liberation Sans" fill="#111">η</text>
<text x="527.5" y="188.5" font-size="10" font-family="Liberation Sans" fill="#223366">η</text>
<text x="166" y="245.5" font-size="11.5" font-family="Liberation Sans" fill="#111">Time (s)</text>
<text x="539.5" y="245" font-size="11.5" font-family="Liberation Sans" fill="#111">Time (s)</text>
<text transform="translate(13.3,104) rotate(-90)" text-anchor="middle" font-size="11" letter-spacing="0.8" font-family="Liberation Sans" fill="#111">i (A/cm<tspan font-size="7.5" dy="-4.5">2</tspan><tspan dy="4.5">)</tspan></text>
<text transform="translate(384.8,104) rotate(-90)" text-anchor="middle" font-size="11" letter-spacing="0.8" font-family="Liberation Sans" fill="#111">i (A/cm<tspan font-size="7.5" dy="-4.5">2</tspan><tspan dy="4.5">)</tspan></text>
<text transform="translate(351,113.5) rotate(-90)" text-anchor="middle" font-size="11" font-family="Liberation Sans" fill="#111">η (%)</text>
<text transform="translate(721,113.5) rotate(-90)" text-anchor="middle" font-size="11" font-family="Liberation Sans" fill="#111">η (%)</text>
</svg></body></html>
